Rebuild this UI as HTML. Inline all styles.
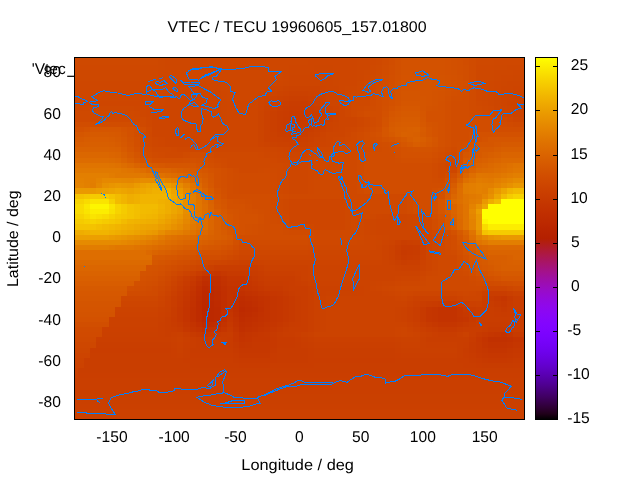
<!DOCTYPE html>
<html><head><meta charset="utf-8"><style>
html,body{margin:0;padding:0;background:#fff;width:640px;height:480px;overflow:hidden}
svg{position:absolute;left:0;top:0;display:block}
text{font-family:"Liberation Sans",sans-serif;fill:#000}
.t{opacity:0.999;text-rendering:geometricPrecision}
</style></head><body>
<svg width="640" height="480" viewBox="0 0 640 480">
<g class="t"><text x="167.60" y="31.50" font-size="15.50" text-anchor="start" textLength="259.0" lengthAdjust="spacingAndGlyphs" >VTEC / TECU 19960605_157.01800</text>
<text x="241.30" y="469.70" font-size="15.50" text-anchor="start" textLength="112.6" lengthAdjust="spacingAndGlyphs" >Longitude / deg</text>
<text x="96.35" y="442.00" font-size="15.60" text-anchor="start" >-150</text>
<text x="158.55" y="442.00" font-size="15.60" text-anchor="start" >-100</text>
<text x="224.18" y="442.00" font-size="15.60" text-anchor="start" >-50</text>
<text x="295.01" y="442.00" font-size="15.60" text-anchor="start" >0</text>
<text x="352.07" y="442.00" font-size="15.60" text-anchor="start" >50</text>
<text x="409.80" y="442.00" font-size="15.60" text-anchor="start" >100</text>
<text x="471.70" y="442.00" font-size="15.60" text-anchor="start" >150</text>
<text x="38.36" y="406.94" font-size="15.60" text-anchor="start" >-80</text>
<text x="38.36" y="365.78" font-size="15.60" text-anchor="start" >-60</text>
<text x="38.36" y="324.62" font-size="15.60" text-anchor="start" >-40</text>
<text x="38.36" y="283.46" font-size="15.60" text-anchor="start" >-20</text>
<text x="52.23" y="242.30" font-size="15.60" text-anchor="start" >0</text>
<text x="43.56" y="201.14" font-size="15.60" text-anchor="start" >20</text>
<text x="43.56" y="159.98" font-size="15.60" text-anchor="start" >40</text>
<text x="43.56" y="118.82" font-size="15.60" text-anchor="start" >60</text>
<text x="43.56" y="76.90" font-size="15.60" text-anchor="start" >80</text>
<text x="567.21" y="423.10" font-size="15.60" text-anchor="start" >-15</text>
<text x="567.21" y="379.10" font-size="15.60" text-anchor="start" >-10</text>
<text x="567.21" y="335.10" font-size="15.60" text-anchor="start" >-5</text>
<text x="570.99" y="291.10" font-size="15.60" text-anchor="start" >0</text>
<text x="570.98" y="247.10" font-size="15.60" text-anchor="start" >5</text>
<text x="570.41" y="203.10" font-size="15.60" text-anchor="start" >10</text>
<text x="570.41" y="159.10" font-size="15.60" text-anchor="start" >15</text>
<text x="570.82" y="114.10" font-size="15.60" text-anchor="start" >20</text>
<text x="570.82" y="70.10" font-size="15.60" text-anchor="start" >25</text>
<text x="31.70" y="73.75" font-size="15.50" text-anchor="start" >'Vtec</text>
<rect x="67.2" y="75.7" width="7.3" height="1.2" fill="#000"/>
<text transform="translate(18,287.0) rotate(-90)" font-size="15.50" textLength="96.5" lengthAdjust="spacingAndGlyphs">Latitude / deg</text></g>
<g shape-rendering="crispEdges">
<path fill="#cf4900" d="M74.50 57.50h83.91v2.57h-83.91zM376.11 57.50h6.22v2.57h-6.22zM475.63 57.50h48.87v2.57h-48.87zM74.50 60.07h83.91v5.13h-83.91zM376.11 60.07h6.22v5.13h-6.22zM475.63 60.07h18.66v5.13h-18.66zM369.89 65.20h6.22v5.13h-6.22zM369.89 70.34h6.22v5.13h-6.22zM363.67 80.61h6.22v5.13h-6.22zM363.67 85.74h6.22v5.13h-6.22zM363.67 90.88h6.22v5.13h-6.22zM357.45 96.01h12.44v5.13h-12.44zM351.23 101.15h18.66v5.13h-18.66zM475.63 101.15h6.22v5.13h-6.22zM351.23 106.28h6.22v5.13h-6.22zM481.85 106.28h6.22v5.13h-6.22zM74.50 111.41h59.03v5.13h-59.03zM351.23 111.41h6.22v5.13h-6.22zM488.07 111.41h6.22v5.13h-6.22zM74.50 116.55h71.47v5.13h-71.47zM363.67 116.55h6.22v5.13h-6.22zM500.51 116.55h6.22v5.13h-6.22zM139.75 121.68h6.22v5.13h-6.22zM363.67 121.68h6.22v5.13h-6.22zM512.95 121.68h11.55v5.13h-11.55zM145.97 126.82h6.22v5.13h-6.22zM357.45 126.82h6.22v5.13h-6.22zM351.23 131.95h6.22v5.13h-6.22zM145.97 137.09h6.22v5.13h-6.22zM351.23 137.09h6.22v5.13h-6.22zM145.97 142.22h6.22v5.13h-6.22zM338.79 142.22h18.66v5.13h-18.66zM152.19 147.36h18.66v5.13h-18.66zM338.79 147.36h18.66v5.13h-18.66zM164.63 152.49h18.66v5.13h-18.66zM214.39 152.49h43.54v5.13h-43.54zM313.91 152.49h43.54v5.13h-43.54zM450.75 152.49h6.22v5.13h-6.22zM226.83 157.63h43.54v5.13h-43.54zM313.91 157.63h43.54v5.13h-43.54zM444.53 157.63h6.22v5.13h-6.22zM226.83 162.76h55.98v5.13h-55.98zM313.91 162.76h43.54v5.13h-43.54zM438.31 162.76h6.22v5.13h-6.22zM239.27 167.90h18.66v5.13h-18.66zM276.59 167.90h6.22v5.13h-6.22zM313.91 167.90h43.54v5.13h-43.54zM438.31 167.90h6.22v5.13h-6.22zM276.59 173.03h6.22v5.13h-6.22zM313.91 173.03h43.54v5.13h-43.54zM438.31 173.03h6.22v5.13h-6.22zM276.59 178.17h6.22v5.13h-6.22zM313.91 178.17h43.54v5.13h-43.54zM276.59 183.30h6.22v5.13h-6.22zM313.91 183.30h43.54v5.13h-43.54zM276.59 188.44h6.22v5.13h-6.22zM313.91 188.44h43.54v5.13h-43.54zM289.03 193.57h118.18v5.13h-118.18zM276.59 198.71h6.22v5.13h-6.22zM351.23 198.71h55.98v5.13h-55.98zM276.59 203.84h6.22v5.13h-6.22zM351.23 203.84h55.98v5.13h-55.98zM276.59 208.98h6.22v5.13h-6.22zM351.23 208.98h55.98v5.13h-55.98zM351.23 214.11h18.66v5.13h-18.66zM282.81 219.24h6.22v5.13h-6.22zM351.23 219.24h6.22v5.13h-6.22zM425.87 219.24h6.22v5.13h-6.22zM289.03 224.38h18.66v5.13h-18.66zM351.23 224.38h6.22v5.13h-6.22zM425.87 224.38h6.22v5.13h-6.22zM313.91 229.51h43.54v5.13h-43.54zM438.31 229.51h6.22v5.13h-6.22zM313.91 234.65h43.54v5.13h-43.54zM438.31 234.65h6.22v5.13h-6.22zM438.31 239.78h6.22v5.13h-6.22zM239.27 244.92h68.42v5.13h-68.42zM438.31 244.92h6.22v5.13h-6.22zM438.31 250.05h6.22v5.13h-6.22zM226.83 255.19h6.22v5.13h-6.22zM438.31 255.19h18.66v5.13h-18.66zM438.31 260.32h18.66v5.13h-18.66zM183.29 265.46h6.22v5.13h-6.22zM438.31 265.46h18.66v5.13h-18.66zM170.85 270.59h6.22v5.13h-6.22zM438.31 270.59h18.66v5.13h-18.66zM164.63 275.73h6.22v5.13h-6.22zM425.87 275.73h43.54v5.13h-43.54zM425.87 280.86h43.54v5.13h-43.54zM400.99 286h80.86v5.13h-80.86zM512.95 286h11.55v5.13h-11.55zM74.50 337.34h21.71v5.13h-21.71z"/>
<path fill="#cf4800" d="M158.41 57.50h6.22v2.57h-6.22zM369.89 60.07h6.22v5.13h-6.22zM494.29 60.07h30.21v5.13h-30.21zM74.50 65.20h83.91v5.13h-83.91zM475.63 65.20h18.66v5.13h-18.66zM363.67 75.47h6.22v5.13h-6.22zM357.45 85.74h6.22v5.13h-6.22zM357.45 90.88h6.22v5.13h-6.22zM475.63 90.88h6.22v5.13h-6.22zM351.23 96.01h6.22v5.13h-6.22zM475.63 96.01h6.22v5.13h-6.22zM481.85 101.15h6.22v5.13h-6.22zM488.07 106.28h6.22v5.13h-6.22zM133.53 111.41h6.22v5.13h-6.22zM145.97 131.95h6.22v5.13h-6.22zM345.01 137.09h6.22v5.13h-6.22zM170.85 147.36h6.22v5.13h-6.22zM332.57 147.36h6.22v5.13h-6.22zM257.93 152.49h6.22v5.13h-6.22zM270.37 157.63h6.22v5.13h-6.22zM282.81 162.76h6.22v5.13h-6.22zM307.69 162.76h6.22v5.13h-6.22zM282.81 167.90h6.22v5.13h-6.22zM307.69 167.90h6.22v5.13h-6.22zM444.53 167.90h6.22v5.13h-6.22zM282.81 173.03h6.22v5.13h-6.22zM307.69 173.03h6.22v5.13h-6.22zM282.81 178.17h6.22v5.13h-6.22zM307.69 178.17h6.22v5.13h-6.22zM282.81 183.30h6.22v5.13h-6.22zM307.69 183.30h6.22v5.13h-6.22zM282.81 188.44h6.22v5.13h-6.22zM307.69 188.44h6.22v5.13h-6.22zM282.81 214.11h6.22v5.13h-6.22zM419.65 214.11h6.22v5.13h-6.22zM357.45 234.65h6.22v5.13h-6.22zM313.91 239.78h43.54v5.13h-43.54zM307.69 244.92h6.22v5.13h-6.22zM394.77 286h6.22v5.13h-6.22z"/>
<path fill="#ce4700" d="M164.63 57.50h149.28v2.57h-149.28zM164.63 60.07h143.06v5.13h-143.06zM357.45 60.07h12.44v5.13h-12.44zM164.63 65.20h124.40v5.13h-124.40zM357.45 65.20h12.44v5.13h-12.44zM506.73 65.20h17.77v5.13h-17.77zM158.41 70.34h124.40v5.13h-124.40zM357.45 70.34h6.22v5.13h-6.22zM494.29 70.34h18.66v5.13h-18.66zM158.41 75.47h124.40v5.13h-124.40zM357.45 75.47h6.22v5.13h-6.22zM494.29 75.47h6.22v5.13h-6.22zM74.50 80.61h90.13v5.13h-90.13zM220.61 80.61h55.98v5.13h-55.98zM475.63 80.61h18.66v5.13h-18.66zM74.50 85.74h90.13v5.13h-90.13zM220.61 85.74h43.54v5.13h-43.54zM345.01 85.74h12.44v5.13h-12.44zM481.85 85.74h12.44v5.13h-12.44zM74.50 90.88h83.91v5.13h-83.91zM226.83 90.88h31.10v5.13h-31.10zM345.01 90.88h6.22v5.13h-6.22zM488.07 90.88h6.22v5.13h-6.22zM74.50 96.01h83.91v5.13h-83.91zM226.83 96.01h31.10v5.13h-31.10zM345.01 96.01h6.22v5.13h-6.22zM488.07 96.01h6.22v5.13h-6.22zM345.01 101.15h6.22v5.13h-6.22zM488.07 101.15h6.22v5.13h-6.22zM133.53 106.28h12.44v5.13h-12.44zM345.01 106.28h6.22v5.13h-6.22zM139.75 111.41h6.22v5.13h-6.22zM345.01 111.41h6.22v5.13h-6.22zM494.29 111.41h6.22v5.13h-6.22zM145.97 116.55h6.22v5.13h-6.22zM357.45 116.55h6.22v5.13h-6.22zM506.73 116.55h6.22v5.13h-6.22zM145.97 121.68h6.22v5.13h-6.22zM357.45 121.68h6.22v5.13h-6.22zM351.23 126.82h6.22v5.13h-6.22zM345.01 131.95h6.22v5.13h-6.22zM152.19 137.09h6.22v5.13h-6.22zM338.79 137.09h6.22v5.13h-6.22zM152.19 142.22h6.22v5.13h-6.22zM332.57 142.22h6.22v5.13h-6.22zM177.07 147.36h87.08v5.13h-87.08zM320.13 147.36h12.44v5.13h-12.44zM264.15 152.49h12.44v5.13h-12.44zM307.69 152.49h6.22v5.13h-6.22zM276.59 157.63h12.44v5.13h-12.44zM450.75 157.63h6.22v5.13h-6.22zM289.03 162.76h18.66v5.13h-18.66zM444.53 162.76h6.22v5.13h-6.22zM289.03 167.90h18.66v5.13h-18.66zM450.75 167.90h6.22v5.13h-6.22zM289.03 173.03h18.66v5.13h-18.66zM289.03 178.17h18.66v5.13h-18.66zM289.03 183.30h18.66v5.13h-18.66zM289.03 188.44h18.66v5.13h-18.66zM363.67 234.65h12.44v5.13h-12.44zM432.09 234.65h6.22v5.13h-6.22zM363.67 239.78h6.22v5.13h-6.22zM432.09 239.78h6.22v5.13h-6.22zM313.91 244.92h55.98v5.13h-55.98zM432.09 244.92h6.22v5.13h-6.22zM239.27 250.05h68.42v5.13h-68.42zM432.09 250.05h6.22v5.13h-6.22zM233.05 255.19h6.22v5.13h-6.22zM432.09 255.19h6.22v5.13h-6.22zM432.09 260.32h6.22v5.13h-6.22zM189.51 265.46h6.22v5.13h-6.22zM432.09 265.46h6.22v5.13h-6.22zM425.87 270.59h6.22v5.13h-6.22zM419.65 275.73h6.22v5.13h-6.22zM164.63 280.86h6.22v5.13h-6.22zM400.99 280.86h18.66v5.13h-18.66zM388.55 286h6.22v5.13h-6.22zM481.85 286h6.22v5.13h-6.22zM506.73 286h6.22v5.13h-6.22zM400.99 291.13h6.22v5.13h-6.22zM463.19 291.13h6.22v5.13h-6.22zM121.09 296.27h37.32v5.13h-37.32zM74.50 342.48h21.71v5.13h-21.71z"/>
<path fill="#ce4600" d="M313.91 57.50h55.98v2.57h-55.98zM307.69 60.07h49.76v5.13h-49.76zM289.03 65.20h24.88v5.13h-24.88zM332.57 65.20h24.88v5.13h-24.88zM282.81 70.34h6.22v5.13h-6.22zM332.57 70.34h24.88v5.13h-24.88zM512.95 70.34h11.55v5.13h-11.55zM282.81 75.47h6.22v5.13h-6.22zM338.79 75.47h18.66v5.13h-18.66zM500.51 75.47h12.44v5.13h-12.44zM164.63 80.61h55.98v5.13h-55.98zM276.59 80.61h6.22v5.13h-6.22zM338.79 80.61h18.66v5.13h-18.66zM494.29 80.61h6.22v5.13h-6.22zM164.63 85.74h55.98v5.13h-55.98zM264.15 85.74h6.22v5.13h-6.22zM338.79 85.74h6.22v5.13h-6.22zM494.29 85.74h6.22v5.13h-6.22zM158.41 90.88h6.22v5.13h-6.22zM220.61 90.88h6.22v5.13h-6.22zM494.29 90.88h6.22v5.13h-6.22zM158.41 96.01h6.22v5.13h-6.22zM220.61 96.01h6.22v5.13h-6.22zM74.50 101.15h83.91v5.13h-83.91zM226.83 101.15h31.10v5.13h-31.10zM145.97 106.28h6.22v5.13h-6.22zM226.83 106.28h31.10v5.13h-31.10zM494.29 106.28h6.22v5.13h-6.22zM145.97 111.41h6.22v5.13h-6.22zM226.83 111.41h31.10v5.13h-31.10zM226.83 116.55h31.10v5.13h-31.10zM226.83 121.68h31.10v5.13h-31.10zM226.83 126.82h31.10v5.13h-31.10zM345.01 126.82h6.22v5.13h-6.22zM226.83 131.95h31.10v5.13h-31.10zM158.41 137.09h6.22v5.13h-6.22zM226.83 137.09h31.10v5.13h-31.10zM332.57 137.09h6.22v5.13h-6.22zM158.41 142.22h6.22v5.13h-6.22zM226.83 142.22h31.10v5.13h-31.10zM264.15 147.36h6.22v5.13h-6.22zM313.91 147.36h6.22v5.13h-6.22zM276.59 152.49h6.22v5.13h-6.22zM289.03 157.63h18.66v5.13h-18.66zM289.03 198.71h55.98v5.13h-55.98zM289.03 203.84h55.98v5.13h-55.98zM289.03 208.98h55.98v5.13h-55.98zM289.03 214.11h55.98v5.13h-55.98zM376.11 214.11h6.22v5.13h-6.22zM413.43 214.11h6.22v5.13h-6.22zM289.03 219.24h55.98v5.13h-55.98zM363.67 219.24h6.22v5.13h-6.22zM413.43 219.24h6.22v5.13h-6.22zM313.91 224.38h31.10v5.13h-31.10zM363.67 224.38h6.22v5.13h-6.22zM413.43 224.38h6.22v5.13h-6.22zM363.67 229.51h6.22v5.13h-6.22zM425.87 229.51h6.22v5.13h-6.22zM376.11 234.65h6.22v5.13h-6.22zM369.89 239.78h6.22v5.13h-6.22zM369.89 244.92h6.22v5.13h-6.22zM307.69 250.05h6.22v5.13h-6.22zM208.17 260.32h6.22v5.13h-6.22zM177.07 270.59h6.22v5.13h-6.22zM394.77 280.86h6.22v5.13h-6.22zM382.33 286h6.22v5.13h-6.22zM158.41 291.13h6.22v5.13h-6.22zM394.77 291.13h6.22v5.13h-6.22zM407.21 291.13h6.22v5.13h-6.22zM456.97 291.13h6.22v5.13h-6.22zM469.41 291.13h6.22v5.13h-6.22z"/>
<path fill="#ce4800" d="M369.89 57.50h6.22v2.57h-6.22zM158.41 60.07h6.22v5.13h-6.22zM158.41 65.20h6.22v5.13h-6.22zM494.29 65.20h12.44v5.13h-12.44zM74.50 70.34h83.91v5.13h-83.91zM363.67 70.34h6.22v5.13h-6.22zM475.63 70.34h18.66v5.13h-18.66zM74.50 75.47h83.91v5.13h-83.91zM475.63 75.47h18.66v5.13h-18.66zM357.45 80.61h6.22v5.13h-6.22zM475.63 85.74h6.22v5.13h-6.22zM351.23 90.88h6.22v5.13h-6.22zM481.85 90.88h6.22v5.13h-6.22zM481.85 96.01h6.22v5.13h-6.22zM74.50 106.28h59.03v5.13h-59.03zM307.69 157.63h6.22v5.13h-6.22zM282.81 198.71h6.22v5.13h-6.22zM345.01 198.71h6.22v5.13h-6.22zM282.81 203.84h6.22v5.13h-6.22zM345.01 203.84h6.22v5.13h-6.22zM282.81 208.98h6.22v5.13h-6.22zM345.01 208.98h6.22v5.13h-6.22zM345.01 214.11h6.22v5.13h-6.22zM369.89 214.11h6.22v5.13h-6.22zM345.01 219.24h6.22v5.13h-6.22zM357.45 219.24h6.22v5.13h-6.22zM419.65 219.24h6.22v5.13h-6.22zM307.69 224.38h6.22v5.13h-6.22zM345.01 224.38h6.22v5.13h-6.22zM357.45 224.38h6.22v5.13h-6.22zM419.65 224.38h6.22v5.13h-6.22zM357.45 229.51h6.22v5.13h-6.22zM432.09 229.51h6.22v5.13h-6.22zM357.45 239.78h6.22v5.13h-6.22zM201.95 260.32h6.22v5.13h-6.22zM432.09 270.59h6.22v5.13h-6.22zM419.65 280.86h6.22v5.13h-6.22zM158.41 286h6.22v5.13h-6.22z"/>
<path fill="#d04b00" d="M382.33 57.50h6.22v2.57h-6.22zM469.41 57.50h6.22v2.57h-6.22zM382.33 60.07h6.22v5.13h-6.22zM469.41 60.07h6.22v5.13h-6.22zM469.41 65.20h6.22v5.13h-6.22zM469.41 70.34h6.22v5.13h-6.22zM376.11 75.47h6.22v5.13h-6.22zM469.41 75.47h6.22v5.13h-6.22zM376.11 80.61h6.22v5.13h-6.22zM469.41 80.61h6.22v5.13h-6.22zM469.41 85.74h6.22v5.13h-6.22zM469.41 90.88h6.22v5.13h-6.22zM369.89 96.01h6.22v5.13h-6.22zM469.41 96.01h6.22v5.13h-6.22zM369.89 101.15h6.22v5.13h-6.22zM469.41 101.15h6.22v5.13h-6.22zM363.67 106.28h6.22v5.13h-6.22zM469.41 106.28h6.22v5.13h-6.22zM357.45 111.41h6.22v5.13h-6.22zM475.63 111.41h6.22v5.13h-6.22zM369.89 116.55h6.22v5.13h-6.22zM494.29 116.55h6.22v5.13h-6.22zM133.53 121.68h6.22v5.13h-6.22zM369.89 121.68h6.22v5.13h-6.22zM500.51 121.68h6.22v5.13h-6.22zM363.67 126.82h6.22v5.13h-6.22zM139.75 131.95h6.22v5.13h-6.22zM357.45 131.95h6.22v5.13h-6.22zM139.75 137.09h6.22v5.13h-6.22zM357.45 137.09h6.22v5.13h-6.22zM139.75 142.22h6.22v5.13h-6.22zM357.45 142.22h6.22v5.13h-6.22zM145.97 147.36h6.22v5.13h-6.22zM363.67 147.36h6.22v5.13h-6.22zM450.75 147.36h6.22v5.13h-6.22zM152.19 152.49h6.22v5.13h-6.22zM183.29 152.49h6.22v5.13h-6.22zM208.17 152.49h6.22v5.13h-6.22zM357.45 152.49h6.22v5.13h-6.22zM444.53 152.49h6.22v5.13h-6.22zM214.39 157.63h6.22v5.13h-6.22zM357.45 157.63h6.22v5.13h-6.22zM438.31 157.63h6.22v5.13h-6.22zM220.61 162.76h6.22v5.13h-6.22zM357.45 162.76h6.22v5.13h-6.22zM432.09 162.76h6.22v5.13h-6.22zM233.05 167.90h6.22v5.13h-6.22zM357.45 167.90h6.22v5.13h-6.22zM432.09 167.90h6.22v5.13h-6.22zM239.27 173.03h31.10v5.13h-31.10zM357.45 173.03h6.22v5.13h-6.22zM432.09 173.03h6.22v5.13h-6.22zM239.27 178.17h31.10v5.13h-31.10zM357.45 178.17h6.22v5.13h-6.22zM438.31 178.17h6.22v5.13h-6.22zM239.27 183.30h31.10v5.13h-31.10zM357.45 183.30h6.22v5.13h-6.22zM239.27 188.44h31.10v5.13h-31.10zM357.45 188.44h6.22v5.13h-6.22zM276.59 193.57h6.22v5.13h-6.22zM407.21 193.57h6.22v5.13h-6.22zM270.37 198.71h6.22v5.13h-6.22zM407.21 198.71h6.22v5.13h-6.22zM270.37 203.84h6.22v5.13h-6.22zM407.21 203.84h6.22v5.13h-6.22zM270.37 208.98h6.22v5.13h-6.22zM407.21 208.98h6.22v5.13h-6.22zM276.59 219.24h6.22v5.13h-6.22zM282.81 224.38h6.22v5.13h-6.22zM289.03 229.51h18.66v5.13h-18.66zM307.69 234.65h6.22v5.13h-6.22zM444.53 234.65h6.22v5.13h-6.22zM239.27 239.78h68.42v5.13h-68.42zM444.53 239.78h6.22v5.13h-6.22zM444.53 244.92h6.22v5.13h-6.22zM450.75 250.05h6.22v5.13h-6.22zM220.61 255.19h6.22v5.13h-6.22zM177.07 265.46h6.22v5.13h-6.22zM456.97 265.46h6.22v5.13h-6.22zM463.19 270.59h6.22v5.13h-6.22zM469.41 275.73h6.22v5.13h-6.22zM475.63 280.86h18.66v5.13h-18.66zM127.31 291.13h18.66v5.13h-18.66zM74.50 327.07h27.93v5.13h-27.93z"/>
<path fill="#d14d00" d="M388.55 57.50h6.22v2.57h-6.22zM463.19 57.50h6.22v2.57h-6.22zM388.55 60.07h6.22v5.13h-6.22zM463.19 60.07h6.22v5.13h-6.22zM382.33 75.47h6.22v5.13h-6.22zM382.33 80.61h6.22v5.13h-6.22zM376.11 96.01h6.22v5.13h-6.22zM463.19 96.01h6.22v5.13h-6.22zM376.11 101.15h6.22v5.13h-6.22zM450.75 101.15h18.66v5.13h-18.66zM376.11 106.28h6.22v5.13h-6.22zM450.75 106.28h18.66v5.13h-18.66zM363.67 111.41h18.66v5.13h-18.66zM450.75 111.41h18.66v5.13h-18.66zM376.11 116.55h6.22v5.13h-6.22zM450.75 116.55h43.54v5.13h-43.54zM74.50 121.68h59.03v5.13h-59.03zM376.11 121.68h6.22v5.13h-6.22zM450.75 121.68h43.54v5.13h-43.54zM139.75 126.82h6.22v5.13h-6.22zM369.89 126.82h6.22v5.13h-6.22zM450.75 126.82h73.75v5.13h-73.75zM363.67 131.95h6.22v5.13h-6.22zM450.75 131.95h18.66v5.13h-18.66zM363.67 137.09h6.22v5.13h-6.22zM450.75 137.09h18.66v5.13h-18.66zM363.67 142.22h18.66v5.13h-18.66zM450.75 142.22h6.22v5.13h-6.22zM139.75 147.36h6.22v5.13h-6.22zM382.33 147.36h6.22v5.13h-6.22zM444.53 147.36h6.22v5.13h-6.22zM145.97 152.49h6.22v5.13h-6.22zM189.51 152.49h18.66v5.13h-18.66zM363.67 152.49h31.10v5.13h-31.10zM438.31 152.49h6.22v5.13h-6.22zM208.17 157.63h6.22v5.13h-6.22zM363.67 157.63h31.10v5.13h-31.10zM432.09 157.63h6.22v5.13h-6.22zM214.39 162.76h6.22v5.13h-6.22zM363.67 162.76h68.42v5.13h-68.42zM226.83 167.90h6.22v5.13h-6.22zM363.67 167.90h68.42v5.13h-68.42zM226.83 173.03h6.22v5.13h-6.22zM363.67 173.03h68.42v5.13h-68.42zM226.83 178.17h6.22v5.13h-6.22zM363.67 178.17h68.42v5.13h-68.42zM226.83 183.30h6.22v5.13h-6.22zM363.67 183.30h80.86v5.13h-80.86zM226.83 188.44h6.22v5.13h-6.22zM363.67 188.44h68.42v5.13h-68.42zM226.83 193.57h43.54v5.13h-43.54zM413.43 193.57h18.66v5.13h-18.66zM251.71 198.71h18.66v5.13h-18.66zM413.43 198.71h18.66v5.13h-18.66zM251.71 203.84h18.66v5.13h-18.66zM413.43 203.84h18.66v5.13h-18.66zM264.15 208.98h6.22v5.13h-6.22zM413.43 208.98h18.66v5.13h-18.66zM264.15 214.11h6.22v5.13h-6.22zM264.15 219.24h6.22v5.13h-6.22zM432.09 219.24h6.22v5.13h-6.22zM264.15 224.38h18.66v5.13h-18.66zM432.09 224.38h6.22v5.13h-6.22zM264.15 229.51h18.66v5.13h-18.66zM444.53 229.51h6.22v5.13h-6.22zM239.27 234.65h68.42v5.13h-68.42zM450.75 234.65h6.22v5.13h-6.22zM450.75 239.78h6.22v5.13h-6.22zM233.05 244.92h6.22v5.13h-6.22zM450.75 244.92h6.22v5.13h-6.22zM226.83 250.05h6.22v5.13h-6.22zM201.95 255.19h18.66v5.13h-18.66zM456.97 255.19h6.22v5.13h-6.22zM170.85 265.46h6.22v5.13h-6.22zM463.19 265.46h6.22v5.13h-6.22zM475.63 275.73h6.22v5.13h-6.22zM152.19 280.86h6.22v5.13h-6.22zM500.51 280.86h6.22v5.13h-6.22zM139.75 286h6.22v5.13h-6.22z"/>
<path fill="#d24f00" d="M394.77 57.50h6.22v2.57h-6.22zM450.75 57.50h6.22v2.57h-6.22zM456.97 60.07h6.22v5.13h-6.22zM456.97 65.20h6.22v5.13h-6.22zM456.97 70.34h6.22v5.13h-6.22zM388.55 75.47h6.22v5.13h-6.22zM388.55 80.61h6.22v5.13h-6.22zM463.19 80.61h6.22v5.13h-6.22zM456.97 85.74h6.22v5.13h-6.22zM450.75 90.88h6.22v5.13h-6.22zM382.33 96.01h6.22v5.13h-6.22zM382.33 101.15h6.22v5.13h-6.22zM444.53 101.15h6.22v5.13h-6.22zM444.53 106.28h6.22v5.13h-6.22zM444.53 111.41h6.22v5.13h-6.22zM444.53 116.55h6.22v5.13h-6.22zM444.53 121.68h6.22v5.13h-6.22zM133.53 126.82h6.22v5.13h-6.22zM376.11 126.82h6.22v5.13h-6.22zM444.53 126.82h6.22v5.13h-6.22zM369.89 131.95h6.22v5.13h-6.22zM444.53 131.95h6.22v5.13h-6.22zM469.41 131.95h6.22v5.13h-6.22zM133.53 137.09h6.22v5.13h-6.22zM376.11 137.09h6.22v5.13h-6.22zM444.53 137.09h6.22v5.13h-6.22zM469.41 137.09h6.22v5.13h-6.22zM133.53 142.22h6.22v5.13h-6.22zM388.55 142.22h6.22v5.13h-6.22zM444.53 142.22h6.22v5.13h-6.22zM463.19 142.22h6.22v5.13h-6.22zM394.77 147.36h6.22v5.13h-6.22zM438.31 147.36h6.22v5.13h-6.22zM139.75 152.49h6.22v5.13h-6.22zM394.77 152.49h6.22v5.13h-6.22zM432.09 152.49h6.22v5.13h-6.22zM456.97 152.49h6.22v5.13h-6.22zM152.19 157.63h31.10v5.13h-31.10zM201.95 157.63h6.22v5.13h-6.22zM400.99 157.63h31.10v5.13h-31.10zM208.17 162.76h6.22v5.13h-6.22zM456.97 162.76h6.22v5.13h-6.22zM220.61 167.90h6.22v5.13h-6.22zM220.61 173.03h6.22v5.13h-6.22zM450.75 173.03h6.22v5.13h-6.22zM220.61 178.17h6.22v5.13h-6.22zM220.61 183.30h6.22v5.13h-6.22zM432.09 188.44h6.22v5.13h-6.22zM432.09 193.57h6.22v5.13h-6.22zM239.27 198.71h6.22v5.13h-6.22zM245.49 203.84h6.22v5.13h-6.22zM251.71 208.98h6.22v5.13h-6.22zM257.93 214.11h6.22v5.13h-6.22zM432.09 214.11h6.22v5.13h-6.22zM257.93 219.24h6.22v5.13h-6.22zM251.71 224.38h6.22v5.13h-6.22zM251.71 229.51h6.22v5.13h-6.22zM220.61 250.05h6.22v5.13h-6.22zM456.97 250.05h6.22v5.13h-6.22zM195.73 255.19h6.22v5.13h-6.22zM177.07 260.32h6.22v5.13h-6.22zM463.19 260.32h6.22v5.13h-6.22zM164.63 265.46h6.22v5.13h-6.22zM158.41 270.59h6.22v5.13h-6.22zM152.19 275.73h6.22v5.13h-6.22zM481.85 275.73h6.22v5.13h-6.22zM139.75 280.86h6.22v5.13h-6.22zM512.95 280.86h11.55v5.13h-11.55zM127.31 286h6.22v5.13h-6.22z"/>
<path fill="#d35100" d="M400.99 57.50h43.54v2.57h-43.54zM444.53 60.07h6.22v5.13h-6.22zM444.53 65.20h6.22v5.13h-6.22zM444.53 70.34h6.22v5.13h-6.22zM394.77 75.47h6.22v5.13h-6.22zM450.75 75.47h6.22v5.13h-6.22zM450.75 80.61h6.22v5.13h-6.22zM444.53 85.74h6.22v5.13h-6.22zM388.55 96.01h6.22v5.13h-6.22zM388.55 101.15h6.22v5.13h-6.22zM438.31 101.15h6.22v5.13h-6.22zM438.31 106.28h6.22v5.13h-6.22zM382.33 111.41h6.22v5.13h-6.22zM425.87 111.41h18.66v5.13h-18.66zM425.87 116.55h18.66v5.13h-18.66zM438.31 121.68h6.22v5.13h-6.22zM74.50 126.82h9.27v5.13h-9.27zM127.31 126.82h6.22v5.13h-6.22zM438.31 126.82h6.22v5.13h-6.22zM127.31 131.95h6.22v5.13h-6.22zM376.11 131.95h6.22v5.13h-6.22zM438.31 131.95h6.22v5.13h-6.22zM475.63 131.95h48.87v5.13h-48.87zM438.31 137.09h6.22v5.13h-6.22zM475.63 137.09h6.22v5.13h-6.22zM438.31 142.22h6.22v5.13h-6.22zM133.53 147.36h6.22v5.13h-6.22zM400.99 147.36h6.22v5.13h-6.22zM432.09 147.36h6.22v5.13h-6.22zM463.19 147.36h6.22v5.13h-6.22zM400.99 152.49h31.10v5.13h-31.10zM189.51 157.63h6.22v5.13h-6.22zM201.95 162.76h6.22v5.13h-6.22zM214.39 167.90h6.22v5.13h-6.22zM214.39 173.03h6.22v5.13h-6.22zM214.39 178.17h6.22v5.13h-6.22zM214.39 183.30h6.22v5.13h-6.22zM438.31 188.44h6.22v5.13h-6.22zM220.61 193.57h6.22v5.13h-6.22zM438.31 193.57h6.22v5.13h-6.22zM226.83 198.71h6.22v5.13h-6.22zM432.09 198.71h6.22v5.13h-6.22zM226.83 203.84h18.66v5.13h-18.66zM432.09 203.84h6.22v5.13h-6.22zM239.27 208.98h6.22v5.13h-6.22zM432.09 208.98h6.22v5.13h-6.22zM239.27 214.11h18.66v5.13h-18.66zM239.27 219.24h18.66v5.13h-18.66zM438.31 219.24h6.22v5.13h-6.22zM239.27 224.38h6.22v5.13h-6.22zM438.31 224.38h6.22v5.13h-6.22zM239.27 229.51h6.22v5.13h-6.22zM450.75 229.51h6.22v5.13h-6.22zM226.83 244.92h6.22v5.13h-6.22zM456.97 244.92h6.22v5.13h-6.22zM201.95 250.05h18.66v5.13h-18.66zM189.51 255.19h6.22v5.13h-6.22zM463.19 255.19h6.22v5.13h-6.22zM170.85 260.32h6.22v5.13h-6.22zM158.41 265.46h6.22v5.13h-6.22zM469.41 265.46h6.22v5.13h-6.22zM152.19 270.59h6.22v5.13h-6.22zM475.63 270.59h6.22v5.13h-6.22zM139.75 275.73h6.22v5.13h-6.22zM488.07 275.73h6.22v5.13h-6.22zM74.50 316.80h34.15v5.13h-34.15z"/>
<path fill="#d25000" d="M444.53 57.50h6.22v2.57h-6.22zM394.77 60.07h6.22v5.13h-6.22zM450.75 60.07h6.22v5.13h-6.22zM394.77 65.20h6.22v5.13h-6.22zM450.75 65.20h6.22v5.13h-6.22zM456.97 75.47h6.22v5.13h-6.22zM456.97 80.61h6.22v5.13h-6.22zM388.55 85.74h6.22v5.13h-6.22zM450.75 85.74h6.22v5.13h-6.22zM388.55 90.88h6.22v5.13h-6.22zM444.53 96.01h6.22v5.13h-6.22zM382.33 106.28h6.22v5.13h-6.22zM183.29 157.63h6.22v5.13h-6.22zM195.73 157.63h6.22v5.13h-6.22zM456.97 157.63h6.22v5.13h-6.22zM444.53 178.17h6.22v5.13h-6.22zM220.61 188.44h6.22v5.13h-6.22zM233.05 198.71h6.22v5.13h-6.22zM245.49 208.98h6.22v5.13h-6.22zM245.49 224.38h6.22v5.13h-6.22zM245.49 229.51h6.22v5.13h-6.22zM233.05 239.78h6.22v5.13h-6.22zM145.97 275.73h6.22v5.13h-6.22zM133.53 280.86h6.22v5.13h-6.22z"/>
<path fill="#d14e00" d="M456.97 57.50h6.22v2.57h-6.22zM388.55 65.20h6.22v5.13h-6.22zM463.19 65.20h6.22v5.13h-6.22zM463.19 70.34h6.22v5.13h-6.22zM463.19 75.47h6.22v5.13h-6.22zM382.33 85.74h6.22v5.13h-6.22zM463.19 85.74h6.22v5.13h-6.22zM382.33 90.88h6.22v5.13h-6.22zM463.19 90.88h6.22v5.13h-6.22zM450.75 96.01h12.44v5.13h-12.44zM133.53 131.95h6.22v5.13h-6.22zM369.89 137.09h6.22v5.13h-6.22zM382.33 142.22h6.22v5.13h-6.22zM456.97 142.22h6.22v5.13h-6.22zM388.55 147.36h6.22v5.13h-6.22zM456.97 147.36h6.22v5.13h-6.22zM394.77 157.63h6.22v5.13h-6.22zM245.49 198.71h6.22v5.13h-6.22zM257.93 208.98h6.22v5.13h-6.22zM257.93 224.38h6.22v5.13h-6.22zM257.93 229.51h6.22v5.13h-6.22zM183.29 260.32h6.22v5.13h-6.22zM469.41 270.59h6.22v5.13h-6.22zM145.97 280.86h6.22v5.13h-6.22zM506.73 280.86h6.22v5.13h-6.22zM133.53 286h6.22v5.13h-6.22zM74.50 321.94h34.15v5.13h-34.15z"/>
<path fill="#d35200" d="M400.99 60.07h43.54v5.13h-43.54zM400.99 65.20h43.54v5.13h-43.54zM438.31 70.34h6.22v5.13h-6.22zM444.53 75.47h6.22v5.13h-6.22zM394.77 80.61h6.22v5.13h-6.22zM444.53 80.61h6.22v5.13h-6.22zM394.77 85.74h6.22v5.13h-6.22zM438.31 90.88h6.22v5.13h-6.22zM438.31 96.01h6.22v5.13h-6.22zM432.09 106.28h6.22v5.13h-6.22zM382.33 137.09h6.22v5.13h-6.22zM407.21 147.36h6.22v5.13h-6.22zM145.97 157.63h6.22v5.13h-6.22zM456.97 167.90h6.22v5.13h-6.22zM145.97 270.59h6.22v5.13h-6.22z"/>
<path fill="#cd4600" d="M313.91 65.20h18.66v5.13h-18.66zM289.03 70.34h24.88v5.13h-24.88zM332.57 75.47h6.22v5.13h-6.22zM512.95 75.47h11.55v5.13h-11.55zM282.81 80.61h6.22v5.13h-6.22zM332.57 80.61h6.22v5.13h-6.22zM500.51 80.61h6.22v5.13h-6.22zM164.63 90.88h55.98v5.13h-55.98zM257.93 90.88h6.22v5.13h-6.22zM338.79 90.88h6.22v5.13h-6.22zM494.29 96.01h6.22v5.13h-6.22zM158.41 101.15h6.22v5.13h-6.22zM220.61 101.15h6.22v5.13h-6.22zM494.29 101.15h6.22v5.13h-6.22zM152.19 106.28h6.22v5.13h-6.22zM220.61 106.28h6.22v5.13h-6.22zM220.61 111.41h6.22v5.13h-6.22zM500.51 111.41h6.22v5.13h-6.22zM220.61 116.55h6.22v5.13h-6.22zM220.61 121.68h6.22v5.13h-6.22zM220.61 126.82h6.22v5.13h-6.22zM220.61 131.95h6.22v5.13h-6.22zM220.61 137.09h6.22v5.13h-6.22zM220.61 142.22h6.22v5.13h-6.22zM270.37 147.36h6.22v5.13h-6.22zM282.81 152.49h6.22v5.13h-6.22zM382.33 214.11h6.22v5.13h-6.22zM407.21 214.11h6.22v5.13h-6.22zM369.89 219.24h6.22v5.13h-6.22zM407.21 219.24h6.22v5.13h-6.22zM369.89 224.38h6.22v5.13h-6.22zM407.21 224.38h6.22v5.13h-6.22zM369.89 229.51h6.22v5.13h-6.22zM419.65 229.51h6.22v5.13h-6.22zM382.33 234.65h6.22v5.13h-6.22zM376.11 239.78h6.22v5.13h-6.22zM313.91 250.05h55.98v5.13h-55.98zM74.50 347.61h15.49v5.13h-15.49z"/>
<path fill="#cf4a00" d="M376.11 65.20h6.22v5.13h-6.22zM369.89 75.47h6.22v5.13h-6.22zM357.45 106.28h6.22v5.13h-6.22zM257.93 167.90h6.22v5.13h-6.22zM270.37 167.90h6.22v5.13h-6.22zM307.69 239.78h6.22v5.13h-6.22zM195.73 260.32h6.22v5.13h-6.22zM456.97 270.59h6.22v5.13h-6.22zM158.41 280.86h6.22v5.13h-6.22zM469.41 280.86h6.22v5.13h-6.22zM152.19 291.13h6.22v5.13h-6.22z"/>
<path fill="#d04c00" d="M382.33 65.20h6.22v5.13h-6.22zM376.11 85.74h6.22v5.13h-6.22zM376.11 90.88h6.22v5.13h-6.22zM369.89 106.28h6.22v5.13h-6.22zM469.41 111.41h6.22v5.13h-6.22zM494.29 121.68h6.22v5.13h-6.22zM369.89 147.36h12.44v5.13h-12.44zM233.05 173.03h6.22v5.13h-6.22zM444.53 173.03h6.22v5.13h-6.22zM233.05 178.17h6.22v5.13h-6.22zM432.09 178.17h6.22v5.13h-6.22zM233.05 183.30h6.22v5.13h-6.22zM233.05 188.44h6.22v5.13h-6.22zM270.37 193.57h6.22v5.13h-6.22zM270.37 214.11h6.22v5.13h-6.22zM270.37 219.24h6.22v5.13h-6.22zM282.81 229.51h6.22v5.13h-6.22zM189.51 260.32h6.22v5.13h-6.22zM456.97 260.32h6.22v5.13h-6.22zM164.63 270.59h6.22v5.13h-6.22zM158.41 275.73h6.22v5.13h-6.22zM494.29 280.86h6.22v5.13h-6.22zM145.97 286h6.22v5.13h-6.22z"/>
<path fill="#cd4500" d="M313.91 70.34h18.66v5.13h-18.66zM289.03 75.47h43.54v5.13h-43.54zM289.03 80.61h43.54v5.13h-43.54zM506.73 80.61h17.77v5.13h-17.77zM270.37 85.74h12.44v5.13h-12.44zM326.35 85.74h12.44v5.13h-12.44zM500.51 85.74h12.44v5.13h-12.44zM264.15 90.88h6.22v5.13h-6.22zM326.35 90.88h12.44v5.13h-12.44zM500.51 90.88h6.22v5.13h-6.22zM164.63 96.01h55.98v5.13h-55.98zM257.93 96.01h6.22v5.13h-6.22zM326.35 96.01h18.66v5.13h-18.66zM164.63 101.15h55.98v5.13h-55.98zM326.35 101.15h18.66v5.13h-18.66zM158.41 106.28h62.20v5.13h-62.20zM338.79 106.28h6.22v5.13h-6.22zM500.51 106.28h6.22v5.13h-6.22zM152.19 111.41h68.42v5.13h-68.42zM338.79 111.41h6.22v5.13h-6.22zM152.19 116.55h68.42v5.13h-68.42zM338.79 116.55h18.66v5.13h-18.66zM512.95 116.55h11.55v5.13h-11.55zM152.19 121.68h68.42v5.13h-68.42zM338.79 121.68h18.66v5.13h-18.66zM152.19 126.82h68.42v5.13h-68.42zM338.79 126.82h6.22v5.13h-6.22zM152.19 131.95h68.42v5.13h-68.42zM326.35 131.95h18.66v5.13h-18.66zM164.63 137.09h55.98v5.13h-55.98zM326.35 137.09h6.22v5.13h-6.22zM164.63 142.22h55.98v5.13h-55.98zM326.35 142.22h6.22v5.13h-6.22zM276.59 147.36h6.22v5.13h-6.22zM307.69 147.36h6.22v5.13h-6.22zM289.03 152.49h18.66v5.13h-18.66zM450.75 162.76h6.22v5.13h-6.22zM388.55 214.11h18.66v5.13h-18.66zM376.11 219.24h31.10v5.13h-31.10zM376.11 224.38h31.10v5.13h-31.10zM376.11 229.51h43.54v5.13h-43.54zM388.55 234.65h43.54v5.13h-43.54zM425.87 239.78h6.22v5.13h-6.22zM376.11 244.92h6.22v5.13h-6.22zM425.87 244.92h6.22v5.13h-6.22zM369.89 250.05h12.44v5.13h-12.44zM425.87 250.05h6.22v5.13h-6.22zM239.27 255.19h143.06v5.13h-143.06zM425.87 255.19h6.22v5.13h-6.22zM214.39 260.32h6.22v5.13h-6.22zM425.87 260.32h6.22v5.13h-6.22zM195.73 265.46h6.22v5.13h-6.22zM425.87 265.46h6.22v5.13h-6.22zM419.65 270.59h6.22v5.13h-6.22zM170.85 275.73h6.22v5.13h-6.22zM400.99 275.73h18.66v5.13h-18.66zM382.33 280.86h12.44v5.13h-12.44zM164.63 286h6.22v5.13h-6.22zM376.11 286h6.22v5.13h-6.22zM488.07 286h18.66v5.13h-18.66zM388.55 291.13h6.22v5.13h-6.22zM413.43 291.13h43.54v5.13h-43.54zM475.63 291.13h6.22v5.13h-6.22zM400.99 296.27h6.22v5.13h-6.22zM463.19 296.27h18.66v5.13h-18.66zM121.09 301.40h37.32v5.13h-37.32zM400.99 327.07h6.22v5.13h-6.22zM400.99 332.21h6.22v5.13h-6.22z"/>
<path fill="#d04a00" d="M376.11 70.34h6.22v5.13h-6.22zM369.89 80.61h6.22v5.13h-6.22zM369.89 85.74h6.22v5.13h-6.22zM369.89 90.88h6.22v5.13h-6.22zM475.63 106.28h6.22v5.13h-6.22zM481.85 111.41h6.22v5.13h-6.22zM506.73 121.68h6.22v5.13h-6.22zM357.45 147.36h6.22v5.13h-6.22zM158.41 152.49h6.22v5.13h-6.22zM220.61 157.63h6.22v5.13h-6.22zM264.15 167.90h6.22v5.13h-6.22zM270.37 173.03h6.22v5.13h-6.22zM270.37 178.17h6.22v5.13h-6.22zM270.37 183.30h6.22v5.13h-6.22zM270.37 188.44h6.22v5.13h-6.22zM282.81 193.57h6.22v5.13h-6.22zM276.59 214.11h6.22v5.13h-6.22zM425.87 214.11h6.22v5.13h-6.22zM307.69 229.51h6.22v5.13h-6.22zM233.05 250.05h6.22v5.13h-6.22zM444.53 250.05h6.22v5.13h-6.22zM152.19 286h6.22v5.13h-6.22zM145.97 291.13h6.22v5.13h-6.22zM74.50 332.21h27.93v5.13h-27.93z"/>
<path fill="#d14c00" d="M382.33 70.34h6.22v5.13h-6.22z"/>
<path fill="#d24e00" d="M388.55 70.34h6.22v5.13h-6.22zM456.97 90.88h6.22v5.13h-6.22z"/>
<path fill="#d25100" d="M394.77 70.34h6.22v5.13h-6.22zM450.75 70.34h6.22v5.13h-6.22zM444.53 90.88h6.22v5.13h-6.22z"/>
<path fill="#d35300" d="M400.99 70.34h37.32v5.13h-37.32zM432.09 75.47h12.44v5.13h-12.44zM438.31 80.61h6.22v5.13h-6.22zM438.31 85.74h6.22v5.13h-6.22zM394.77 90.88h6.22v5.13h-6.22zM432.09 90.88h6.22v5.13h-6.22zM394.77 96.01h6.22v5.13h-6.22zM432.09 96.01h6.22v5.13h-6.22zM432.09 101.15h6.22v5.13h-6.22zM425.87 106.28h6.22v5.13h-6.22zM382.33 116.55h6.22v5.13h-6.22zM432.09 121.68h6.22v5.13h-6.22zM127.31 137.09h6.22v5.13h-6.22zM394.77 142.22h6.22v5.13h-6.22zM469.41 142.22h6.22v5.13h-6.22zM413.43 147.36h18.66v5.13h-18.66zM233.05 208.98h6.22v5.13h-6.22zM438.31 214.11h6.22v5.13h-6.22zM183.29 255.19h6.22v5.13h-6.22zM152.19 265.46h6.22v5.13h-6.22zM139.75 270.59h6.22v5.13h-6.22zM74.50 311.67h40.37v5.13h-40.37z"/>
<path fill="#d45300" d="M400.99 75.47h31.10v5.13h-31.10zM432.09 80.61h6.22v5.13h-6.22zM432.09 85.74h6.22v5.13h-6.22zM394.77 101.15h6.22v5.13h-6.22zM388.55 106.28h6.22v5.13h-6.22zM382.33 121.68h6.22v5.13h-6.22zM83.77 126.82h6.22v5.13h-6.22zM121.09 126.82h6.22v5.13h-6.22zM432.09 126.82h6.22v5.13h-6.22zM432.09 131.95h6.22v5.13h-6.22zM481.85 137.09h6.22v5.13h-6.22zM195.73 162.76h6.22v5.13h-6.22zM208.17 167.90h6.22v5.13h-6.22zM233.05 214.11h6.22v5.13h-6.22zM233.05 219.24h6.22v5.13h-6.22zM233.05 224.38h6.22v5.13h-6.22zM233.05 234.65h6.22v5.13h-6.22zM456.97 239.78h6.22v5.13h-6.22zM220.61 244.92h6.22v5.13h-6.22zM195.73 250.05h6.22v5.13h-6.22zM164.63 260.32h6.22v5.13h-6.22zM469.41 260.32h6.22v5.13h-6.22zM145.97 265.46h6.22v5.13h-6.22zM481.85 270.59h6.22v5.13h-6.22zM494.29 275.73h6.22v5.13h-6.22z"/>
<path fill="#d45400" d="M400.99 80.61h31.10v5.13h-31.10zM400.99 85.74h31.10v5.13h-31.10zM419.65 90.88h12.44v5.13h-12.44zM425.87 96.01h6.22v5.13h-6.22zM425.87 101.15h6.22v5.13h-6.22zM425.87 121.68h6.22v5.13h-6.22zM388.55 137.09h6.22v5.13h-6.22zM127.31 142.22h6.22v5.13h-6.22zM139.75 157.63h6.22v5.13h-6.22zM444.53 183.30h6.22v5.13h-6.22zM214.39 188.44h6.22v5.13h-6.22zM226.83 208.98h6.22v5.13h-6.22zM233.05 229.51h6.22v5.13h-6.22zM463.19 250.05h6.22v5.13h-6.22zM177.07 255.19h6.22v5.13h-6.22zM74.50 306.54h40.37v5.13h-40.37z"/>
<path fill="#cc4400" d="M282.81 85.74h6.22v5.13h-6.22zM512.95 90.88h11.55v5.13h-11.55zM264.15 96.01h6.22v5.13h-6.22zM506.73 96.01h6.22v5.13h-6.22zM257.93 111.41h6.22v5.13h-6.22zM257.93 116.55h6.22v5.13h-6.22zM257.93 121.68h6.22v5.13h-6.22zM332.57 121.68h6.22v5.13h-6.22zM257.93 126.82h6.22v5.13h-6.22zM257.93 131.95h6.22v5.13h-6.22zM257.93 137.09h6.22v5.13h-6.22zM320.13 137.09h6.22v5.13h-6.22zM369.89 280.86h6.22v5.13h-6.22z"/>
<path fill="#cc4300" d="M289.03 85.74h31.10v5.13h-31.10zM276.59 90.88h6.22v5.13h-6.22zM320.13 90.88h6.22v5.13h-6.22zM320.13 96.01h6.22v5.13h-6.22zM512.95 96.01h11.55v5.13h-11.55zM264.15 101.15h6.22v5.13h-6.22zM506.73 101.15h17.77v5.13h-17.77zM326.35 106.28h6.22v5.13h-6.22zM512.95 106.28h11.55v5.13h-11.55zM332.57 111.41h6.22v5.13h-6.22zM512.95 111.41h11.55v5.13h-11.55zM332.57 116.55h6.22v5.13h-6.22zM326.35 121.68h6.22v5.13h-6.22zM326.35 126.82h6.22v5.13h-6.22zM320.13 131.95h6.22v5.13h-6.22zM313.91 137.09h6.22v5.13h-6.22zM264.15 142.22h6.22v5.13h-6.22zM313.91 142.22h6.22v5.13h-6.22zM289.03 147.36h18.66v5.13h-18.66zM388.55 239.78h6.22v5.13h-6.22zM382.33 244.92h6.22v5.13h-6.22zM382.33 250.05h6.22v5.13h-6.22zM382.33 255.19h6.22v5.13h-6.22zM226.83 260.32h6.22v5.13h-6.22zM264.15 260.32h49.76v5.13h-49.76zM382.33 260.32h6.22v5.13h-6.22zM201.95 265.46h6.22v5.13h-6.22zM313.91 265.46h80.86v5.13h-80.86zM419.65 265.46h6.22v5.13h-6.22zM183.29 270.59h6.22v5.13h-6.22zM313.91 270.59h105.74v5.13h-105.74zM313.91 275.73h80.86v5.13h-80.86zM170.85 280.86h6.22v5.13h-6.22zM357.45 280.86h12.44v5.13h-12.44zM363.67 286h6.22v5.13h-6.22zM164.63 291.13h6.22v5.13h-6.22zM363.67 291.13h18.66v5.13h-18.66zM326.35 296.27h68.42v5.13h-68.42zM407.21 296.27h6.22v5.13h-6.22zM456.97 296.27h6.22v5.13h-6.22zM158.41 301.40h6.22v5.13h-6.22zM326.35 301.40h80.86v5.13h-80.86zM114.87 306.54h43.54v5.13h-43.54zM326.35 306.54h68.42v5.13h-68.42zM326.35 311.67h68.42v5.13h-68.42zM326.35 316.80h68.42v5.13h-68.42zM326.35 321.94h80.86v5.13h-80.86zM326.35 327.07h68.42v5.13h-68.42zM407.21 327.07h6.22v5.13h-6.22zM313.91 332.21h80.86v5.13h-80.86zM413.43 332.21h6.22v5.13h-6.22zM74.50 357.88h9.27v5.13h-9.27z"/>
<path fill="#cd4400" d="M320.13 85.74h6.22v5.13h-6.22zM512.95 85.74h11.55v5.13h-11.55zM270.37 90.88h6.22v5.13h-6.22zM506.73 90.88h6.22v5.13h-6.22zM500.51 96.01h6.22v5.13h-6.22zM257.93 101.15h6.22v5.13h-6.22zM500.51 101.15h6.22v5.13h-6.22zM257.93 106.28h6.22v5.13h-6.22zM332.57 106.28h6.22v5.13h-6.22zM506.73 106.28h6.22v5.13h-6.22zM506.73 111.41h6.22v5.13h-6.22zM332.57 126.82h6.22v5.13h-6.22zM257.93 142.22h6.22v5.13h-6.22zM320.13 142.22h6.22v5.13h-6.22zM282.81 147.36h6.22v5.13h-6.22zM382.33 239.78h6.22v5.13h-6.22zM220.61 260.32h6.22v5.13h-6.22zM313.91 260.32h68.42v5.13h-68.42zM394.77 275.73h6.22v5.13h-6.22zM376.11 280.86h6.22v5.13h-6.22zM369.89 286h6.22v5.13h-6.22zM382.33 291.13h6.22v5.13h-6.22zM158.41 296.27h6.22v5.13h-6.22zM394.77 296.27h6.22v5.13h-6.22zM394.77 327.07h6.22v5.13h-6.22zM394.77 332.21h6.22v5.13h-6.22zM407.21 332.21h6.22v5.13h-6.22zM74.50 352.75h15.49v5.13h-15.49z"/>
<path fill="#cc4200" d="M282.81 90.88h6.22v5.13h-6.22zM313.91 90.88h6.22v5.13h-6.22zM270.37 96.01h6.22v5.13h-6.22zM320.13 101.15h6.22v5.13h-6.22zM307.69 142.22h6.22v5.13h-6.22zM419.65 239.78h6.22v5.13h-6.22zM233.05 260.32h6.22v5.13h-6.22zM257.93 260.32h6.22v5.13h-6.22zM419.65 260.32h6.22v5.13h-6.22zM307.69 265.46h6.22v5.13h-6.22zM307.69 270.59h6.22v5.13h-6.22zM307.69 275.73h6.22v5.13h-6.22zM313.91 280.86h43.54v5.13h-43.54zM357.45 286h6.22v5.13h-6.22zM357.45 291.13h6.22v5.13h-6.22zM114.87 311.67h43.54v5.13h-43.54zM74.50 363.02h9.27v5.13h-9.27z"/>
<path fill="#cb4100" d="M289.03 90.88h18.66v5.13h-18.66zM276.59 96.01h6.22v5.13h-6.22zM313.91 96.01h6.22v5.13h-6.22zM270.37 101.15h6.22v5.13h-6.22zM320.13 106.28h6.22v5.13h-6.22zM264.15 111.41h6.22v5.13h-6.22zM326.35 111.41h6.22v5.13h-6.22zM264.15 116.55h6.22v5.13h-6.22zM326.35 116.55h6.22v5.13h-6.22zM264.15 121.68h6.22v5.13h-6.22zM264.15 126.82h6.22v5.13h-6.22zM320.13 126.82h6.22v5.13h-6.22zM264.15 131.95h6.22v5.13h-6.22zM313.91 131.95h6.22v5.13h-6.22zM264.15 137.09h6.22v5.13h-6.22zM307.69 137.09h6.22v5.13h-6.22zM276.59 142.22h12.44v5.13h-12.44zM295.25 142.22h12.44v5.13h-12.44zM388.55 244.92h6.22v5.13h-6.22zM388.55 250.05h6.22v5.13h-6.22zM388.55 255.19h6.22v5.13h-6.22zM419.65 255.19h6.22v5.13h-6.22zM239.27 260.32h18.66v5.13h-18.66zM264.15 265.46h43.54v5.13h-43.54zM400.99 265.46h18.66v5.13h-18.66zM301.47 270.59h6.22v5.13h-6.22zM177.07 275.73h6.22v5.13h-6.22zM301.47 275.73h6.22v5.13h-6.22zM307.69 280.86h6.22v5.13h-6.22zM170.85 286h6.22v5.13h-6.22zM313.91 286h43.54v5.13h-43.54zM313.91 291.13h12.44v5.13h-12.44zM481.85 291.13h6.22v5.13h-6.22zM512.95 291.13h11.55v5.13h-11.55zM164.63 296.27h6.22v5.13h-6.22zM313.91 296.27h6.22v5.13h-6.22zM413.43 296.27h43.54v5.13h-43.54zM313.91 301.40h6.22v5.13h-6.22zM407.21 301.40h6.22v5.13h-6.22zM475.63 301.40h6.22v5.13h-6.22zM158.41 306.54h6.22v5.13h-6.22zM313.91 306.54h6.22v5.13h-6.22zM400.99 306.54h6.22v5.13h-6.22zM313.91 311.67h6.22v5.13h-6.22zM400.99 311.67h6.22v5.13h-6.22zM108.65 316.80h49.76v5.13h-49.76zM313.91 316.80h6.22v5.13h-6.22zM400.99 316.80h6.22v5.13h-6.22zM108.65 321.94h49.76v5.13h-49.76zM313.91 321.94h6.22v5.13h-6.22zM407.21 321.94h6.22v5.13h-6.22zM313.91 327.07h6.22v5.13h-6.22zM413.43 327.07h6.22v5.13h-6.22zM307.69 332.21h6.22v5.13h-6.22zM419.65 332.21h6.22v5.13h-6.22zM463.19 332.21h6.22v5.13h-6.22zM177.07 337.34h6.22v5.13h-6.22zM394.77 337.34h6.22v5.13h-6.22zM400.99 342.48h18.66v5.13h-18.66zM74.50 368.15h3.05v5.13h-3.05zM74.50 409.23h450v5.13h-450zM74.50 414.37h450v5.13h-450z"/>
<path fill="#cb4200" d="M307.69 90.88h6.22v5.13h-6.22zM264.15 106.28h6.22v5.13h-6.22zM270.37 142.22h6.22v5.13h-6.22zM388.55 260.32h6.22v5.13h-6.22zM394.77 265.46h6.22v5.13h-6.22zM326.35 291.13h31.10v5.13h-31.10zM320.13 296.27h6.22v5.13h-6.22zM320.13 301.40h6.22v5.13h-6.22zM320.13 306.54h6.22v5.13h-6.22zM394.77 306.54h6.22v5.13h-6.22zM320.13 311.67h6.22v5.13h-6.22zM394.77 311.67h6.22v5.13h-6.22zM320.13 316.80h6.22v5.13h-6.22zM394.77 316.80h6.22v5.13h-6.22zM320.13 321.94h6.22v5.13h-6.22zM320.13 327.07h6.22v5.13h-6.22zM400.99 337.34h18.66v5.13h-18.66z"/>
<path fill="#d45500" d="M400.99 90.88h18.66v5.13h-18.66zM400.99 96.01h24.88v5.13h-24.88zM419.65 101.15h6.22v5.13h-6.22zM419.65 106.28h6.22v5.13h-6.22zM121.09 131.95h6.22v5.13h-6.22zM432.09 142.22h6.22v5.13h-6.22zM133.53 152.49h6.22v5.13h-6.22zM450.75 178.17h6.22v5.13h-6.22zM220.61 198.71h6.22v5.13h-6.22zM158.41 260.32h6.22v5.13h-6.22zM74.50 301.40h46.59v5.13h-46.59z"/>
<path fill="#cb4000" d="M282.81 96.01h6.22v5.13h-6.22zM307.69 96.01h6.22v5.13h-6.22zM270.37 106.28h6.22v5.13h-6.22zM320.13 121.68h6.22v5.13h-6.22zM270.37 137.09h6.22v5.13h-6.22zM289.03 142.22h6.22v5.13h-6.22zM394.77 239.78h6.22v5.13h-6.22zM419.65 244.92h6.22v5.13h-6.22zM419.65 250.05h6.22v5.13h-6.22zM189.51 270.59h6.22v5.13h-6.22zM295.25 270.59h6.22v5.13h-6.22zM164.63 301.40h6.22v5.13h-6.22zM469.41 301.40h6.22v5.13h-6.22zM158.41 311.67h6.22v5.13h-6.22zM102.43 327.07h55.98v5.13h-55.98zM313.91 337.34h80.86v5.13h-80.86zM177.07 342.48h6.22v5.13h-6.22zM74.50 373.29h3.05v5.13h-3.05zM74.50 404.10h450v5.13h-450z"/>
<path fill="#ca3f00" d="M289.03 96.01h18.66v5.13h-18.66zM270.37 111.41h6.22v5.13h-6.22zM320.13 111.41h6.22v5.13h-6.22zM270.37 116.55h6.22v5.13h-6.22zM320.13 116.55h6.22v5.13h-6.22zM270.37 121.68h6.22v5.13h-6.22zM270.37 126.82h6.22v5.13h-6.22zM282.81 137.09h18.66v5.13h-18.66zM407.21 239.78h6.22v5.13h-6.22zM407.21 260.32h12.44v5.13h-12.44zM257.93 265.46h6.22v5.13h-6.22zM264.15 270.59h31.10v5.13h-31.10zM295.25 275.73h6.22v5.13h-6.22zM177.07 280.86h6.22v5.13h-6.22zM301.47 280.86h6.22v5.13h-6.22zM307.69 286h6.22v5.13h-6.22zM170.85 291.13h6.22v5.13h-6.22zM307.69 291.13h6.22v5.13h-6.22zM506.73 291.13h6.22v5.13h-6.22zM307.69 296.27h6.22v5.13h-6.22zM481.85 296.27h6.22v5.13h-6.22zM307.69 301.40h6.22v5.13h-6.22zM413.43 301.40h6.22v5.13h-6.22zM463.19 301.40h6.22v5.13h-6.22zM307.69 306.54h6.22v5.13h-6.22zM407.21 306.54h6.22v5.13h-6.22zM164.63 311.67h6.22v5.13h-6.22zM307.69 311.67h6.22v5.13h-6.22zM407.21 311.67h6.22v5.13h-6.22zM307.69 316.80h6.22v5.13h-6.22zM407.21 316.80h6.22v5.13h-6.22zM158.41 321.94h6.22v5.13h-6.22zM307.69 321.94h6.22v5.13h-6.22zM413.43 321.94h6.22v5.13h-6.22zM158.41 327.07h6.22v5.13h-6.22zM307.69 327.07h6.22v5.13h-6.22zM419.65 327.07h6.22v5.13h-6.22zM158.41 332.21h6.22v5.13h-6.22zM170.85 332.21h6.22v5.13h-6.22zM456.97 332.21h6.22v5.13h-6.22zM96.21 337.34h74.64v5.13h-74.64zM183.29 337.34h6.22v5.13h-6.22zM307.69 337.34h6.22v5.13h-6.22zM170.85 342.48h6.22v5.13h-6.22zM313.91 342.48h80.86v5.13h-80.86zM425.87 342.48h31.10v5.13h-31.10zM394.77 347.61h6.22v5.13h-6.22zM177.07 352.75h6.22v5.13h-6.22zM400.99 352.75h55.98v5.13h-55.98zM74.50 378.42h450v5.13h-450zM74.50 383.56h450v5.13h-450zM74.50 388.69h450v5.13h-450z"/>
<path fill="#ca4000" d="M276.59 101.15h6.22v5.13h-6.22zM313.91 101.15h6.22v5.13h-6.22zM313.91 126.82h6.22v5.13h-6.22zM270.37 131.95h6.22v5.13h-6.22zM307.69 131.95h6.22v5.13h-6.22zM276.59 137.09h6.22v5.13h-6.22zM301.47 137.09h6.22v5.13h-6.22zM413.43 239.78h6.22v5.13h-6.22zM394.77 260.32h6.22v5.13h-6.22zM208.17 265.46h6.22v5.13h-6.22zM164.63 306.54h6.22v5.13h-6.22zM158.41 316.80h6.22v5.13h-6.22zM102.43 332.21h55.98v5.13h-55.98zM177.07 332.21h6.22v5.13h-6.22zM301.47 332.21h6.22v5.13h-6.22zM425.87 332.21h6.22v5.13h-6.22zM170.85 337.34h6.22v5.13h-6.22zM419.65 337.34h6.22v5.13h-6.22zM394.77 342.48h6.22v5.13h-6.22zM419.65 342.48h6.22v5.13h-6.22zM177.07 347.61h6.22v5.13h-6.22zM400.99 347.61h55.98v5.13h-55.98zM74.50 393.83h450v5.13h-450zM74.50 398.96h450v5.13h-450z"/>
<path fill="#ca3e00" d="M282.81 101.15h6.22v5.13h-6.22zM307.69 101.15h6.22v5.13h-6.22zM276.59 106.28h6.22v5.13h-6.22zM313.91 106.28h6.22v5.13h-6.22zM295.25 280.86h6.22v5.13h-6.22zM481.85 301.40h6.22v5.13h-6.22zM295.25 332.21h6.22v5.13h-6.22zM432.09 332.21h6.22v5.13h-6.22zM183.29 342.48h6.22v5.13h-6.22zM170.85 347.61h6.22v5.13h-6.22zM170.85 352.75h6.22v5.13h-6.22zM394.77 352.75h6.22v5.13h-6.22zM77.55 373.29h446.95v5.13h-446.95z"/>
<path fill="#c93d00" d="M289.03 101.15h18.66v5.13h-18.66zM282.81 106.28h6.22v5.13h-6.22zM307.69 106.28h6.22v5.13h-6.22zM276.59 111.41h6.22v5.13h-6.22zM313.91 111.41h6.22v5.13h-6.22zM276.59 116.55h6.22v5.13h-6.22zM313.91 116.55h6.22v5.13h-6.22zM276.59 121.68h6.22v5.13h-6.22zM307.69 121.68h6.22v5.13h-6.22zM276.59 126.82h12.44v5.13h-12.44zM301.47 126.82h6.22v5.13h-6.22zM289.03 131.95h6.22v5.13h-6.22zM394.77 250.05h6.22v5.13h-6.22zM413.43 255.19h6.22v5.13h-6.22zM214.39 265.46h43.54v5.13h-43.54zM257.93 270.59h6.22v5.13h-6.22zM183.29 275.73h6.22v5.13h-6.22zM264.15 275.73h31.10v5.13h-31.10zM289.03 280.86h6.22v5.13h-6.22zM177.07 286h6.22v5.13h-6.22zM289.03 286h18.66v5.13h-18.66zM295.25 291.13h12.44v5.13h-12.44zM488.07 291.13h18.66v5.13h-18.66zM170.85 296.27h6.22v5.13h-6.22zM301.47 296.27h6.22v5.13h-6.22zM512.95 296.27h11.55v5.13h-11.55zM170.85 301.40h6.22v5.13h-6.22zM301.47 301.40h6.22v5.13h-6.22zM419.65 301.40h6.22v5.13h-6.22zM512.95 301.40h11.55v5.13h-11.55zM301.47 306.54h6.22v5.13h-6.22zM413.43 306.54h6.22v5.13h-6.22zM475.63 306.54h18.66v5.13h-18.66zM512.95 306.54h11.55v5.13h-11.55zM301.47 311.67h6.22v5.13h-6.22zM413.43 311.67h6.22v5.13h-6.22zM475.63 311.67h18.66v5.13h-18.66zM512.95 311.67h11.55v5.13h-11.55zM301.47 316.80h6.22v5.13h-6.22zM413.43 316.80h6.22v5.13h-6.22zM475.63 316.80h48.87v5.13h-48.87zM301.47 321.94h6.22v5.13h-6.22zM475.63 321.94h6.22v5.13h-6.22zM512.95 321.94h11.55v5.13h-11.55zM170.85 327.07h6.22v5.13h-6.22zM289.03 327.07h18.66v5.13h-18.66zM425.87 327.07h6.22v5.13h-6.22zM463.19 327.07h18.66v5.13h-18.66zM512.95 327.07h11.55v5.13h-11.55zM183.29 332.21h6.22v5.13h-6.22zM282.81 332.21h12.44v5.13h-12.44zM438.31 332.21h18.66v5.13h-18.66zM469.41 332.21h6.22v5.13h-6.22zM189.51 337.34h6.22v5.13h-6.22zM214.39 337.34h6.22v5.13h-6.22zM189.51 342.48h6.22v5.13h-6.22zM214.39 342.48h6.22v5.13h-6.22zM301.47 342.48h6.22v5.13h-6.22zM463.19 342.48h6.22v5.13h-6.22zM89.99 347.61h80.86v5.13h-80.86zM307.69 347.61h6.22v5.13h-6.22zM307.69 352.75h6.22v5.13h-6.22zM183.29 357.88h49.76v5.13h-49.76zM307.69 357.88h87.08v5.13h-87.08zM456.97 357.88h12.44v5.13h-12.44zM189.51 363.02h49.76v5.13h-49.76zM270.37 363.02h43.54v5.13h-43.54zM463.19 363.02h12.44v5.13h-12.44z"/>
<path fill="#d55600" d="M400.99 101.15h18.66v5.13h-18.66zM394.77 106.28h6.22v5.13h-6.22zM388.55 111.41h6.22v5.13h-6.22zM419.65 111.41h6.22v5.13h-6.22zM89.99 126.82h31.10v5.13h-31.10zM382.33 126.82h6.22v5.13h-6.22zM425.87 126.82h6.22v5.13h-6.22zM74.50 131.95h9.27v5.13h-9.27zM382.33 131.95h6.22v5.13h-6.22zM425.87 131.95h6.22v5.13h-6.22zM432.09 137.09h6.22v5.13h-6.22zM488.07 137.09h36.43v5.13h-36.43zM400.99 142.22h6.22v5.13h-6.22zM475.63 142.22h18.66v5.13h-18.66zM127.31 147.36h6.22v5.13h-6.22zM469.41 147.36h6.22v5.13h-6.22zM463.19 152.49h6.22v5.13h-6.22zM164.63 162.76h31.10v5.13h-31.10zM201.95 167.90h6.22v5.13h-6.22zM208.17 173.03h6.22v5.13h-6.22zM214.39 193.57h6.22v5.13h-6.22zM438.31 198.71h6.22v5.13h-6.22zM220.61 203.84h6.22v5.13h-6.22zM438.31 203.84h6.22v5.13h-6.22zM438.31 208.98h6.22v5.13h-6.22zM226.83 214.11h6.22v5.13h-6.22zM226.83 219.24h6.22v5.13h-6.22zM226.83 224.38h6.22v5.13h-6.22zM456.97 234.65h6.22v5.13h-6.22zM226.83 239.78h6.22v5.13h-6.22zM214.39 244.92h6.22v5.13h-6.22zM463.19 244.92h6.22v5.13h-6.22zM189.51 250.05h6.22v5.13h-6.22zM170.85 255.19h6.22v5.13h-6.22zM469.41 255.19h6.22v5.13h-6.22zM475.63 265.46h6.22v5.13h-6.22zM488.07 270.59h6.22v5.13h-6.22zM500.51 275.73h23.99v5.13h-23.99z"/>
<path fill="#c93c00" d="M289.03 106.28h18.66v5.13h-18.66zM282.81 111.41h6.22v5.13h-6.22zM307.69 111.41h6.22v5.13h-6.22zM307.69 116.55h6.22v5.13h-6.22zM295.25 126.82h6.22v5.13h-6.22zM407.21 255.19h6.22v5.13h-6.22zM195.73 270.59h6.22v5.13h-6.22zM282.81 280.86h6.22v5.13h-6.22zM456.97 301.40h6.22v5.13h-6.22zM494.29 311.67h6.22v5.13h-6.22zM506.73 311.67h6.22v5.13h-6.22zM295.25 321.94h6.22v5.13h-6.22zM419.65 321.94h6.22v5.13h-6.22zM481.85 321.94h6.22v5.13h-6.22zM506.73 321.94h6.22v5.13h-6.22zM295.25 337.34h6.22v5.13h-6.22zM189.51 352.75h43.54v5.13h-43.54zM463.19 352.75h6.22v5.13h-6.22zM239.27 363.02h31.10v5.13h-31.10zM475.63 363.02h6.22v5.13h-6.22zM512.95 363.02h11.55v5.13h-11.55z"/>
<path fill="#d65800" d="M400.99 106.28h18.66v5.13h-18.66zM394.77 111.41h6.22v5.13h-6.22zM388.55 116.55h6.22v5.13h-6.22zM419.65 121.68h6.22v5.13h-6.22zM83.77 131.95h6.22v5.13h-6.22zM114.87 131.95h6.22v5.13h-6.22zM121.09 142.22h6.22v5.13h-6.22zM425.87 142.22h6.22v5.13h-6.22zM494.29 142.22h6.22v5.13h-6.22zM469.41 152.49h6.22v5.13h-6.22zM158.41 162.76h6.22v5.13h-6.22zM195.73 167.90h6.22v5.13h-6.22zM208.17 183.30h6.22v5.13h-6.22zM214.39 198.71h6.22v5.13h-6.22zM220.61 208.98h6.22v5.13h-6.22zM444.53 219.24h6.22v5.13h-6.22zM444.53 224.38h6.22v5.13h-6.22zM220.61 239.78h6.22v5.13h-6.22zM201.95 244.92h6.22v5.13h-6.22zM183.29 250.05h6.22v5.13h-6.22zM475.63 260.32h6.22v5.13h-6.22zM481.85 265.46h6.22v5.13h-6.22zM494.29 270.59h6.22v5.13h-6.22zM74.50 291.13h52.81v5.13h-52.81z"/>
<path fill="#c83b00" d="M289.03 111.41h18.66v5.13h-18.66zM289.03 116.55h18.66v5.13h-18.66zM289.03 121.68h6.22v5.13h-6.22zM400.99 244.92h12.44v5.13h-12.44zM407.21 250.05h6.22v5.13h-6.22zM400.99 255.19h6.22v5.13h-6.22zM245.49 270.59h6.22v5.13h-6.22zM183.29 280.86h6.22v5.13h-6.22zM177.07 291.13h6.22v5.13h-6.22zM432.09 301.40h6.22v5.13h-6.22zM506.73 301.40h6.22v5.13h-6.22zM469.41 311.67h6.22v5.13h-6.22zM170.85 316.80h6.22v5.13h-6.22zM220.61 332.21h6.22v5.13h-6.22zM226.83 337.34h6.22v5.13h-6.22zM276.59 337.34h18.66v5.13h-18.66zM469.41 337.34h6.22v5.13h-6.22zM201.95 342.48h6.22v5.13h-6.22zM226.83 342.48h6.22v5.13h-6.22zM276.59 342.48h18.66v5.13h-18.66zM233.05 352.75h6.22v5.13h-6.22zM270.37 352.75h6.22v5.13h-6.22zM469.41 352.75h6.22v5.13h-6.22zM239.27 357.88h37.32v5.13h-37.32zM475.63 357.88h6.22v5.13h-6.22zM512.95 357.88h11.55v5.13h-11.55z"/>
<path fill="#d65a00" d="M400.99 111.41h18.66v5.13h-18.66zM394.77 116.55h6.22v5.13h-6.22zM388.55 121.68h6.22v5.13h-6.22zM89.99 131.95h18.66v5.13h-18.66zM388.55 131.95h6.22v5.13h-6.22zM419.65 131.95h6.22v5.13h-6.22zM74.50 137.09h9.27v5.13h-9.27zM114.87 137.09h6.22v5.13h-6.22zM400.99 137.09h6.22v5.13h-6.22zM425.87 137.09h6.22v5.13h-6.22zM500.51 142.22h23.99v5.13h-23.99zM475.63 147.36h18.66v5.13h-18.66zM127.31 152.49h6.22v5.13h-6.22zM475.63 152.49h6.22v5.13h-6.22zM463.19 157.63h6.22v5.13h-6.22zM152.19 162.76h6.22v5.13h-6.22zM463.19 162.76h6.22v5.13h-6.22zM189.51 167.90h6.22v5.13h-6.22zM201.95 173.03h6.22v5.13h-6.22zM456.97 173.03h6.22v5.13h-6.22zM214.39 203.84h6.22v5.13h-6.22zM220.61 214.11h6.22v5.13h-6.22zM444.53 214.11h6.22v5.13h-6.22zM220.61 219.24h6.22v5.13h-6.22zM220.61 224.38h6.22v5.13h-6.22zM456.97 229.51h6.22v5.13h-6.22zM226.83 234.65h6.22v5.13h-6.22zM214.39 239.78h6.22v5.13h-6.22zM463.19 239.78h6.22v5.13h-6.22zM177.07 250.05h6.22v5.13h-6.22zM152.19 255.19h6.22v5.13h-6.22zM475.63 255.19h6.22v5.13h-6.22zM481.85 260.32h6.22v5.13h-6.22zM488.07 265.46h6.22v5.13h-6.22zM500.51 270.59h23.99v5.13h-23.99zM74.50 286h52.81v5.13h-52.81z"/>
<path fill="#c83c00" d="M282.81 116.55h6.22v5.13h-6.22zM282.81 121.68h6.22v5.13h-6.22zM295.25 121.68h12.44v5.13h-12.44zM289.03 126.82h6.22v5.13h-6.22zM413.43 244.92h6.22v5.13h-6.22zM413.43 250.05h6.22v5.13h-6.22zM251.71 270.59h6.22v5.13h-6.22zM257.93 275.73h6.22v5.13h-6.22zM264.15 280.86h18.66v5.13h-18.66zM282.81 286h6.22v5.13h-6.22zM289.03 291.13h6.22v5.13h-6.22zM295.25 296.27h6.22v5.13h-6.22zM295.25 301.40h6.22v5.13h-6.22zM425.87 301.40h6.22v5.13h-6.22zM488.07 301.40h6.22v5.13h-6.22zM170.85 306.54h6.22v5.13h-6.22zM295.25 306.54h6.22v5.13h-6.22zM469.41 306.54h6.22v5.13h-6.22zM494.29 306.54h6.22v5.13h-6.22zM506.73 306.54h6.22v5.13h-6.22zM170.85 311.67h6.22v5.13h-6.22zM295.25 311.67h6.22v5.13h-6.22zM500.51 311.67h6.22v5.13h-6.22zM295.25 316.80h6.22v5.13h-6.22zM170.85 321.94h6.22v5.13h-6.22zM289.03 321.94h6.22v5.13h-6.22zM469.41 321.94h6.22v5.13h-6.22zM488.07 321.94h18.66v5.13h-18.66zM177.07 327.07h6.22v5.13h-6.22zM282.81 327.07h6.22v5.13h-6.22zM432.09 327.07h6.22v5.13h-6.22zM456.97 327.07h6.22v5.13h-6.22zM481.85 327.07h6.22v5.13h-6.22zM506.73 327.07h6.22v5.13h-6.22zM226.83 332.21h6.22v5.13h-6.22zM276.59 332.21h6.22v5.13h-6.22zM195.73 337.34h6.22v5.13h-6.22zM208.17 337.34h6.22v5.13h-6.22zM220.61 337.34h6.22v5.13h-6.22zM195.73 342.48h6.22v5.13h-6.22zM208.17 342.48h6.22v5.13h-6.22zM220.61 342.48h6.22v5.13h-6.22zM295.25 342.48h6.22v5.13h-6.22zM189.51 347.61h43.54v5.13h-43.54zM276.59 347.61h31.10v5.13h-31.10zM463.19 347.61h6.22v5.13h-6.22zM276.59 352.75h31.10v5.13h-31.10zM233.05 357.88h6.22v5.13h-6.22zM276.59 357.88h31.10v5.13h-31.10zM469.41 357.88h6.22v5.13h-6.22zM481.85 363.02h31.10v5.13h-31.10z"/>
<path fill="#d75c00" d="M400.99 116.55h18.66v5.13h-18.66zM394.77 121.68h6.22v5.13h-6.22zM388.55 126.82h6.22v5.13h-6.22zM83.77 137.09h6.22v5.13h-6.22zM108.65 137.09h6.22v5.13h-6.22zM114.87 142.22h6.22v5.13h-6.22zM450.75 183.30h6.22v5.13h-6.22zM208.17 188.44h6.22v5.13h-6.22z"/>
<path fill="#d55700" d="M419.65 116.55h6.22v5.13h-6.22zM121.09 137.09h6.22v5.13h-6.22zM394.77 137.09h6.22v5.13h-6.22zM208.17 178.17h6.22v5.13h-6.22zM226.83 229.51h6.22v5.13h-6.22zM208.17 244.92h6.22v5.13h-6.22zM164.63 255.19h6.22v5.13h-6.22zM152.19 260.32h6.22v5.13h-6.22zM74.50 296.27h46.59v5.13h-46.59z"/>
<path fill="#c93e00" d="M313.91 121.68h6.22v5.13h-6.22zM307.69 126.82h6.22v5.13h-6.22zM276.59 131.95h12.44v5.13h-12.44zM295.25 131.95h12.44v5.13h-12.44zM400.99 239.78h6.22v5.13h-6.22zM394.77 244.92h6.22v5.13h-6.22zM394.77 255.19h6.22v5.13h-6.22zM400.99 260.32h6.22v5.13h-6.22zM164.63 316.80h6.22v5.13h-6.22zM164.63 321.94h6.22v5.13h-6.22zM164.63 327.07h6.22v5.13h-6.22zM164.63 332.21h6.22v5.13h-6.22zM301.47 337.34h6.22v5.13h-6.22zM425.87 337.34h43.54v5.13h-43.54zM96.21 342.48h74.64v5.13h-74.64zM307.69 342.48h6.22v5.13h-6.22zM456.97 342.48h6.22v5.13h-6.22zM183.29 347.61h6.22v5.13h-6.22zM313.91 347.61h80.86v5.13h-80.86zM456.97 347.61h6.22v5.13h-6.22zM89.99 352.75h80.86v5.13h-80.86zM183.29 352.75h6.22v5.13h-6.22zM313.91 352.75h80.86v5.13h-80.86zM456.97 352.75h6.22v5.13h-6.22zM83.77 357.88h99.52v5.13h-99.52zM394.77 357.88h62.20v5.13h-62.20zM83.77 363.02h105.74v5.13h-105.74zM313.91 363.02h149.28v5.13h-149.28zM77.55 368.15h446.95v5.13h-446.95z"/>
<path fill="#d85d00" d="M400.99 121.68h18.66v5.13h-18.66zM89.99 137.09h18.66v5.13h-18.66zM74.50 142.22h9.27v5.13h-9.27zM413.43 142.22h6.22v5.13h-6.22zM463.19 167.90h6.22v5.13h-6.22zM214.39 208.98h6.22v5.13h-6.22zM189.51 244.92h6.22v5.13h-6.22zM74.50 280.86h59.03v5.13h-59.03z"/>
<path fill="#d85e00" d="M394.77 126.82h6.22v5.13h-6.22zM394.77 131.95h6.22v5.13h-6.22zM407.21 137.09h6.22v5.13h-6.22zM419.65 137.09h6.22v5.13h-6.22zM83.77 142.22h6.22v5.13h-6.22zM108.65 142.22h6.22v5.13h-6.22zM494.29 260.32h6.22v5.13h-6.22z"/>
<path fill="#d85f00" d="M400.99 126.82h6.22v5.13h-6.22zM413.43 131.95h6.22v5.13h-6.22zM89.99 142.22h18.66v5.13h-18.66zM500.51 147.36h23.99v5.13h-23.99zM121.09 152.49h6.22v5.13h-6.22zM488.07 152.49h6.22v5.13h-6.22zM127.31 157.63h6.22v5.13h-6.22zM475.63 157.63h6.22v5.13h-6.22zM139.75 162.76h6.22v5.13h-6.22zM469.41 162.76h6.22v5.13h-6.22zM177.07 167.90h6.22v5.13h-6.22zM189.51 173.03h6.22v5.13h-6.22zM201.95 183.30h6.22v5.13h-6.22zM208.17 193.57h6.22v5.13h-6.22zM214.39 214.11h6.22v5.13h-6.22zM214.39 219.24h6.22v5.13h-6.22zM450.75 219.24h6.22v5.13h-6.22zM214.39 224.38h6.22v5.13h-6.22zM450.75 224.38h6.22v5.13h-6.22zM214.39 229.51h6.22v5.13h-6.22zM214.39 234.65h6.22v5.13h-6.22zM463.19 234.65h6.22v5.13h-6.22zM201.95 239.78h6.22v5.13h-6.22zM183.29 244.92h6.22v5.13h-6.22zM164.63 250.05h6.22v5.13h-6.22zM475.63 250.05h6.22v5.13h-6.22zM488.07 255.19h18.66v5.13h-18.66zM500.51 260.32h6.22v5.13h-6.22zM500.51 265.46h23.99v5.13h-23.99z"/>
<path fill="#d96000" d="M407.21 126.82h6.22v5.13h-6.22zM407.21 131.95h6.22v5.13h-6.22zM114.87 147.36h6.22v5.13h-6.22zM444.53 198.71h6.22v5.13h-6.22zM506.73 260.32h6.22v5.13h-6.22zM74.50 275.73h65.25v5.13h-65.25z"/>
<path fill="#d96100" d="M413.43 126.82h6.22v5.13h-6.22zM400.99 131.95h6.22v5.13h-6.22zM413.43 137.09h6.22v5.13h-6.22zM108.65 147.36h6.22v5.13h-6.22zM494.29 152.49h6.22v5.13h-6.22zM481.85 157.63h6.22v5.13h-6.22zM170.85 167.90h6.22v5.13h-6.22zM450.75 188.44h6.22v5.13h-6.22zM208.17 234.65h6.22v5.13h-6.22zM195.73 239.78h6.22v5.13h-6.22zM158.41 250.05h6.22v5.13h-6.22zM481.85 250.05h6.22v5.13h-6.22zM506.73 255.19h6.22v5.13h-6.22zM512.95 260.32h11.55v5.13h-11.55z"/>
<path fill="#d75b00" d="M419.65 126.82h6.22v5.13h-6.22zM419.65 142.22h6.22v5.13h-6.22zM121.09 147.36h6.22v5.13h-6.22zM444.53 193.57h6.22v5.13h-6.22zM220.61 229.51h6.22v5.13h-6.22zM195.73 244.92h6.22v5.13h-6.22z"/>
<path fill="#d65900" d="M108.65 131.95h6.22v5.13h-6.22zM407.21 142.22h6.22v5.13h-6.22zM133.53 157.63h6.22v5.13h-6.22zM444.53 188.44h6.22v5.13h-6.22zM469.41 250.05h6.22v5.13h-6.22zM158.41 255.19h6.22v5.13h-6.22z"/>
<path fill="#d96200" d="M74.50 147.36h34.15v5.13h-34.15zM456.97 178.17h6.22v5.13h-6.22zM208.17 198.71h6.22v5.13h-6.22zM450.75 214.11h6.22v5.13h-6.22zM177.07 244.92h6.22v5.13h-6.22z"/>
<path fill="#d75d00" d="M494.29 147.36h6.22v5.13h-6.22zM481.85 152.49h6.22v5.13h-6.22zM469.41 157.63h6.22v5.13h-6.22zM145.97 162.76h6.22v5.13h-6.22zM183.29 167.90h6.22v5.13h-6.22zM195.73 173.03h6.22v5.13h-6.22zM201.95 178.17h6.22v5.13h-6.22zM444.53 203.84h6.22v5.13h-6.22zM444.53 208.98h6.22v5.13h-6.22zM220.61 234.65h6.22v5.13h-6.22zM208.17 239.78h6.22v5.13h-6.22zM469.41 244.92h6.22v5.13h-6.22zM170.85 250.05h6.22v5.13h-6.22zM481.85 255.19h6.22v5.13h-6.22zM488.07 260.32h6.22v5.13h-6.22zM494.29 265.46h6.22v5.13h-6.22z"/>
<path fill="#db6700" d="M74.50 152.49h34.15v5.13h-34.15zM164.63 244.92h6.22v5.13h-6.22z"/>
<path fill="#db6500" d="M108.65 152.49h6.22v5.13h-6.22zM208.17 208.98h6.22v5.13h-6.22z"/>
<path fill="#da6400" d="M114.87 152.49h6.22v5.13h-6.22zM500.51 152.49h23.99v5.13h-23.99zM121.09 157.63h6.22v5.13h-6.22zM488.07 157.63h6.22v5.13h-6.22zM133.53 162.76h6.22v5.13h-6.22zM475.63 162.76h6.22v5.13h-6.22zM152.19 167.90h18.66v5.13h-18.66zM183.29 173.03h6.22v5.13h-6.22zM201.95 188.44h6.22v5.13h-6.22zM208.17 203.84h6.22v5.13h-6.22zM450.75 203.84h6.22v5.13h-6.22zM450.75 208.98h6.22v5.13h-6.22zM208.17 229.51h6.22v5.13h-6.22zM463.19 229.51h6.22v5.13h-6.22zM201.95 234.65h6.22v5.13h-6.22zM189.51 239.78h6.22v5.13h-6.22zM170.85 244.92h6.22v5.13h-6.22zM475.63 244.92h6.22v5.13h-6.22zM152.19 250.05h6.22v5.13h-6.22zM488.07 250.05h36.43v5.13h-36.43zM512.95 255.19h11.55v5.13h-11.55z"/>
<path fill="#dd6c00" d="M74.50 157.63h34.15v5.13h-34.15zM494.29 162.76h6.22v5.13h-6.22zM488.07 167.90h6.22v5.13h-6.22zM170.85 173.03h6.22v5.13h-6.22zM201.95 198.71h6.22v5.13h-6.22zM456.97 203.84h6.22v5.13h-6.22zM456.97 208.98h6.22v5.13h-6.22zM183.29 234.65h6.22v5.13h-6.22zM170.85 239.78h6.22v5.13h-6.22zM152.19 244.92h6.22v5.13h-6.22z"/>
<path fill="#dc6b00" d="M108.65 157.63h6.22v5.13h-6.22zM481.85 167.90h6.22v5.13h-6.22zM456.97 214.11h6.22v5.13h-6.22z"/>
<path fill="#dc6900" d="M114.87 157.63h6.22v5.13h-6.22zM500.51 157.63h23.99v5.13h-23.99zM127.31 162.76h6.22v5.13h-6.22zM488.07 162.76h6.22v5.13h-6.22zM145.97 167.90h6.22v5.13h-6.22zM475.63 167.90h6.22v5.13h-6.22zM177.07 173.03h6.22v5.13h-6.22zM189.51 178.17h6.22v5.13h-6.22zM195.73 183.30h6.22v5.13h-6.22zM201.95 193.57h6.22v5.13h-6.22zM456.97 219.24h6.22v5.13h-6.22zM456.97 224.38h6.22v5.13h-6.22zM201.95 229.51h6.22v5.13h-6.22zM189.51 234.65h6.22v5.13h-6.22zM177.07 239.78h6.22v5.13h-6.22zM158.41 244.92h6.22v5.13h-6.22zM488.07 244.92h36.43v5.13h-36.43zM145.97 250.05h6.22v5.13h-6.22z"/>
<path fill="#db6600" d="M494.29 157.63h6.22v5.13h-6.22zM481.85 162.76h6.22v5.13h-6.22zM463.19 173.03h6.22v5.13h-6.22zM450.75 193.57h6.22v5.13h-6.22zM208.17 214.11h6.22v5.13h-6.22zM208.17 219.24h6.22v5.13h-6.22zM208.17 224.38h6.22v5.13h-6.22zM195.73 234.65h6.22v5.13h-6.22zM183.29 239.78h6.22v5.13h-6.22zM469.41 239.78h6.22v5.13h-6.22zM481.85 244.92h6.22v5.13h-6.22zM74.50 265.46h71.47v5.13h-71.47z"/>
<path fill="#e07400" d="M74.50 162.76h34.15v5.13h-34.15zM512.95 162.76h11.55v5.13h-11.55zM127.31 167.90h6.22v5.13h-6.22zM506.73 167.90h6.22v5.13h-6.22zM152.19 173.03h6.22v5.13h-6.22zM488.07 173.03h6.22v5.13h-6.22zM189.51 183.30h6.22v5.13h-6.22zM195.73 193.57h6.22v5.13h-6.22zM463.19 203.84h6.22v5.13h-6.22zM463.19 208.98h6.22v5.13h-6.22zM463.19 214.11h6.22v5.13h-6.22zM463.19 219.24h6.22v5.13h-6.22zM195.73 224.38h6.22v5.13h-6.22zM463.19 224.38h6.22v5.13h-6.22zM189.51 229.51h6.22v5.13h-6.22zM469.41 229.51h6.22v5.13h-6.22zM164.63 234.65h6.22v5.13h-6.22zM475.63 239.78h6.22v5.13h-6.22zM133.53 244.92h6.22v5.13h-6.22z"/>
<path fill="#df7300" d="M108.65 162.76h6.22v5.13h-6.22zM158.41 239.78h6.22v5.13h-6.22z"/>
<path fill="#df7100" d="M114.87 162.76h6.22v5.13h-6.22zM506.73 162.76h6.22v5.13h-6.22zM133.53 167.90h6.22v5.13h-6.22zM500.51 167.90h6.22v5.13h-6.22zM158.41 173.03h6.22v5.13h-6.22zM183.29 178.17h6.22v5.13h-6.22zM170.85 234.65h6.22v5.13h-6.22zM139.75 244.92h6.22v5.13h-6.22z"/>
<path fill="#dd6d00" d="M121.09 162.76h6.22v5.13h-6.22z"/>
<path fill="#de6e00" d="M500.51 162.76h6.22v5.13h-6.22zM139.75 167.90h6.22v5.13h-6.22zM164.63 173.03h6.22v5.13h-6.22zM469.41 173.03h6.22v5.13h-6.22zM195.73 188.44h6.22v5.13h-6.22zM456.97 188.44h6.22v5.13h-6.22zM456.97 193.57h6.22v5.13h-6.22zM201.95 203.84h6.22v5.13h-6.22zM201.95 208.98h6.22v5.13h-6.22zM201.95 214.11h6.22v5.13h-6.22zM201.95 219.24h6.22v5.13h-6.22zM201.95 224.38h6.22v5.13h-6.22zM195.73 229.51h6.22v5.13h-6.22zM177.07 234.65h6.22v5.13h-6.22zM469.41 234.65h6.22v5.13h-6.22zM164.63 239.78h6.22v5.13h-6.22zM74.50 250.05h71.47v5.13h-71.47zM74.50 255.19h77.69v5.13h-77.69z"/>
<path fill="#e17900" d="M74.50 167.90h46.59v5.13h-46.59zM114.87 173.03h31.10v5.13h-31.10zM500.51 173.03h6.22v5.13h-6.22zM177.07 178.17h6.22v5.13h-6.22zM488.07 178.17h6.22v5.13h-6.22zM189.51 188.44h6.22v5.13h-6.22zM469.41 193.57h6.22v5.13h-6.22zM189.51 224.38h6.22v5.13h-6.22zM183.29 229.51h6.22v5.13h-6.22zM481.85 239.78h6.22v5.13h-6.22z"/>
<path fill="#e07600" d="M121.09 167.90h6.22v5.13h-6.22zM145.97 173.03h6.22v5.13h-6.22zM475.63 173.03h6.22v5.13h-6.22zM494.29 173.03h6.22v5.13h-6.22zM469.41 178.17h6.22v5.13h-6.22zM463.19 193.57h6.22v5.13h-6.22zM463.19 198.71h6.22v5.13h-6.22zM195.73 203.84h6.22v5.13h-6.22zM195.73 208.98h6.22v5.13h-6.22zM195.73 214.11h6.22v5.13h-6.22z"/>
<path fill="#da6300" d="M469.41 167.90h6.22v5.13h-6.22zM195.73 178.17h6.22v5.13h-6.22zM74.50 270.59h65.25v5.13h-65.25z"/>
<path fill="#de6f00" d="M494.29 167.90h6.22v5.13h-6.22zM145.97 244.92h6.22v5.13h-6.22z"/>
<path fill="#e17700" d="M512.95 167.90h11.55v5.13h-11.55zM152.19 239.78h6.22v5.13h-6.22zM114.87 244.92h18.66v5.13h-18.66z"/>
<path fill="#e37f00" d="M74.50 173.03h34.15v5.13h-34.15zM512.95 173.03h11.55v5.13h-11.55zM83.77 178.17h6.22v5.13h-6.22zM183.29 183.30h6.22v5.13h-6.22zM488.07 183.30h6.22v5.13h-6.22zM481.85 188.44h6.22v5.13h-6.22zM189.51 193.57h6.22v5.13h-6.22zM189.51 198.71h6.22v5.13h-6.22zM475.63 198.71h6.22v5.13h-6.22zM189.51 203.84h6.22v5.13h-6.22zM189.51 208.98h6.22v5.13h-6.22zM189.51 214.11h6.22v5.13h-6.22zM177.07 229.51h6.22v5.13h-6.22zM475.63 234.65h6.22v5.13h-6.22zM139.75 239.78h6.22v5.13h-6.22zM488.07 239.78h36.43v5.13h-36.43z"/>
<path fill="#e27c00" d="M108.65 173.03h6.22v5.13h-6.22zM506.73 173.03h6.22v5.13h-6.22zM475.63 178.17h6.22v5.13h-6.22zM463.19 183.30h6.22v5.13h-6.22zM463.19 188.44h6.22v5.13h-6.22zM475.63 193.57h6.22v5.13h-6.22zM469.41 198.71h6.22v5.13h-6.22z"/>
<path fill="#e07500" d="M481.85 173.03h6.22v5.13h-6.22zM195.73 198.71h6.22v5.13h-6.22zM195.73 219.24h6.22v5.13h-6.22z"/>
<path fill="#e48100" d="M74.50 178.17h9.27v5.13h-9.27zM475.63 183.30h6.22v5.13h-6.22zM475.63 188.44h6.22v5.13h-6.22z"/>
<path fill="#e37e00" d="M89.99 178.17h6.22v5.13h-6.22zM170.85 178.17h6.22v5.13h-6.22zM494.29 178.17h6.22v5.13h-6.22zM469.41 183.30h6.22v5.13h-6.22zM469.41 188.44h6.22v5.13h-6.22z"/>
<path fill="#e48300" d="M96.21 178.17h6.22v5.13h-6.22zM164.63 178.17h6.22v5.13h-6.22zM74.50 183.30h9.27v5.13h-9.27zM152.19 234.65h6.22v5.13h-6.22z"/>
<path fill="#e68800" d="M102.43 178.17h18.66v5.13h-18.66zM158.41 178.17h6.22v5.13h-6.22zM183.29 188.44h6.22v5.13h-6.22zM469.41 208.98h6.22v5.13h-6.22zM481.85 234.65h6.22v5.13h-6.22zM121.09 239.78h6.22v5.13h-6.22z"/>
<path fill="#e58700" d="M121.09 178.17h6.22v5.13h-6.22zM96.21 183.30h6.22v5.13h-6.22zM183.29 219.24h6.22v5.13h-6.22zM145.97 234.65h6.22v5.13h-6.22z"/>
<path fill="#e58600" d="M127.31 178.17h6.22v5.13h-6.22zM506.73 178.17h6.22v5.13h-6.22z"/>
<path fill="#e68900" d="M133.53 178.17h6.22v5.13h-6.22z"/>
<path fill="#e78c00" d="M139.75 178.17h18.66v5.13h-18.66z"/>
<path fill="#de7000" d="M463.19 178.17h6.22v5.13h-6.22zM456.97 198.71h6.22v5.13h-6.22z"/>
<path fill="#e27a00" d="M481.85 178.17h6.22v5.13h-6.22z"/>
<path fill="#e48200" d="M500.51 178.17h6.22v5.13h-6.22zM469.41 203.84h6.22v5.13h-6.22zM469.41 219.24h6.22v5.13h-6.22zM183.29 224.38h6.22v5.13h-6.22zM469.41 224.38h6.22v5.13h-6.22zM170.85 229.51h6.22v5.13h-6.22zM133.53 239.78h6.22v5.13h-6.22z"/>
<path fill="#e68b00" d="M512.95 178.17h11.55v5.13h-11.55zM177.07 183.30h6.22v5.13h-6.22zM500.51 183.30h6.22v5.13h-6.22zM488.07 188.44h6.22v5.13h-6.22zM183.29 214.11h6.22v5.13h-6.22zM177.07 224.38h6.22v5.13h-6.22zM139.75 234.65h6.22v5.13h-6.22zM74.50 239.78h46.59v5.13h-46.59z"/>
<path fill="#e38000" d="M83.77 183.30h6.22v5.13h-6.22zM481.85 183.30h6.22v5.13h-6.22z"/>
<path fill="#e27d00" d="M89.99 183.30h6.22v5.13h-6.22zM189.51 219.24h6.22v5.13h-6.22zM74.50 244.92h34.15v5.13h-34.15z"/>
<path fill="#e89100" d="M102.43 183.30h6.22v5.13h-6.22zM506.73 183.30h6.22v5.13h-6.22zM488.07 193.57h6.22v5.13h-6.22zM475.63 203.84h6.22v5.13h-6.22zM177.07 219.24h6.22v5.13h-6.22zM170.85 224.38h6.22v5.13h-6.22zM475.63 229.51h6.22v5.13h-6.22zM127.31 234.65h6.22v5.13h-6.22zM488.07 234.65h6.22v5.13h-6.22z"/>
<path fill="#e99500" d="M108.65 183.30h6.22v5.13h-6.22zM121.09 234.65h6.22v5.13h-6.22zM494.29 234.65h6.22v5.13h-6.22z"/>
<path fill="#ea9800" d="M114.87 183.30h6.22v5.13h-6.22zM512.95 183.30h11.55v5.13h-11.55zM177.07 188.44h6.22v5.13h-6.22zM494.29 188.44h6.22v5.13h-6.22zM481.85 198.71h6.22v5.13h-6.22zM177.07 214.11h6.22v5.13h-6.22zM475.63 214.11h6.22v5.13h-6.22zM170.85 219.24h6.22v5.13h-6.22zM475.63 219.24h6.22v5.13h-6.22zM164.63 224.38h6.22v5.13h-6.22zM475.63 224.38h6.22v5.13h-6.22zM152.19 229.51h6.22v5.13h-6.22zM114.87 234.65h6.22v5.13h-6.22zM500.51 234.65h23.99v5.13h-23.99z"/>
<path fill="#e99600" d="M121.09 183.30h6.22v5.13h-6.22z"/>
<path fill="#e99400" d="M127.31 183.30h6.22v5.13h-6.22z"/>
<path fill="#eb9b00" d="M133.53 183.30h6.22v5.13h-6.22zM164.63 183.30h6.22v5.13h-6.22zM145.97 229.51h6.22v5.13h-6.22zM108.65 234.65h6.22v5.13h-6.22z"/>
<path fill="#eca100" d="M139.75 183.30h6.22v5.13h-6.22zM158.41 183.30h6.22v5.13h-6.22zM127.31 188.44h6.22v5.13h-6.22z"/>
<path fill="#eda500" d="M145.97 183.30h6.22v5.13h-6.22zM133.53 188.44h6.22v5.13h-6.22z"/>
<path fill="#eea800" d="M152.19 183.30h6.22v5.13h-6.22zM139.75 188.44h6.22v5.13h-6.22z"/>
<path fill="#e99300" d="M170.85 183.30h6.22v5.13h-6.22z"/>
<path fill="#dd6b00" d="M456.97 183.30h6.22v5.13h-6.22zM450.75 198.71h6.22v5.13h-6.22z"/>
<path fill="#e58500" d="M494.29 183.30h6.22v5.13h-6.22zM481.85 193.57h6.22v5.13h-6.22zM469.41 214.11h6.22v5.13h-6.22zM164.63 229.51h6.22v5.13h-6.22zM127.31 239.78h6.22v5.13h-6.22z"/>
<path fill="#ea9900" d="M74.50 188.44h21.71v5.13h-21.71z"/>
<path fill="#eb9d00" d="M96.21 188.44h6.22v5.13h-6.22zM158.41 224.38h6.22v5.13h-6.22z"/>
<path fill="#eca000" d="M102.43 188.44h6.22v5.13h-6.22z"/>
<path fill="#eda300" d="M108.65 188.44h6.22v5.13h-6.22zM170.85 188.44h6.22v5.13h-6.22zM152.19 224.38h6.22v5.13h-6.22z"/>
<path fill="#eea700" d="M114.87 188.44h6.22v5.13h-6.22z"/>
<path fill="#eda400" d="M121.09 188.44h6.22v5.13h-6.22zM145.97 224.38h6.22v5.13h-6.22z"/>
<path fill="#efac00" d="M145.97 188.44h6.22v5.13h-6.22z"/>
<path fill="#f0b000" d="M152.19 188.44h18.66v5.13h-18.66zM133.53 193.57h6.22v5.13h-6.22zM133.53 198.71h6.22v5.13h-6.22zM158.41 198.71h6.22v5.13h-6.22zM139.75 219.24h6.22v5.13h-6.22zM121.09 224.38h6.22v5.13h-6.22zM83.77 229.51h6.22v5.13h-6.22zM108.65 229.51h6.22v5.13h-6.22z"/>
<path fill="#eda600" d="M500.51 188.44h6.22v5.13h-6.22zM494.29 193.57h6.22v5.13h-6.22zM170.85 198.71h6.22v5.13h-6.22zM170.85 203.84h6.22v5.13h-6.22zM481.85 203.84h6.22v5.13h-6.22zM170.85 208.98h6.22v5.13h-6.22zM164.63 214.11h6.22v5.13h-6.22zM158.41 219.24h6.22v5.13h-6.22zM139.75 224.38h6.22v5.13h-6.22zM127.31 229.51h6.22v5.13h-6.22z"/>
<path fill="#f1b400" d="M506.73 188.44h6.22v5.13h-6.22zM121.09 193.57h6.22v5.13h-6.22zM139.75 193.57h31.10v5.13h-31.10zM121.09 198.71h6.22v5.13h-6.22zM139.75 198.71h18.66v5.13h-18.66zM158.41 203.84h6.22v5.13h-6.22zM152.19 214.11h6.22v5.13h-6.22zM127.31 219.24h6.22v5.13h-6.22zM114.87 224.38h6.22v5.13h-6.22zM89.99 229.51h18.66v5.13h-18.66z"/>
<path fill="#f2bb00" d="M512.95 188.44h11.55v5.13h-11.55zM114.87 193.57h6.22v5.13h-6.22zM500.51 193.57h6.22v5.13h-6.22zM114.87 198.71h6.22v5.13h-6.22zM494.29 198.71h6.22v5.13h-6.22zM139.75 203.84h18.66v5.13h-18.66zM139.75 208.98h6.22v5.13h-6.22zM121.09 219.24h6.22v5.13h-6.22zM102.43 224.38h6.22v5.13h-6.22z"/>
<path fill="#f4c300" d="M74.50 193.57h9.27v5.13h-9.27zM108.65 193.57h6.22v5.13h-6.22zM127.31 203.84h6.22v5.13h-6.22zM127.31 208.98h6.22v5.13h-6.22zM127.31 214.11h6.22v5.13h-6.22zM114.87 219.24h6.22v5.13h-6.22zM74.50 224.38h21.71v5.13h-21.71zM481.85 229.51h6.22v5.13h-6.22z"/>
<path fill="#f5c700" d="M83.77 193.57h6.22v5.13h-6.22zM121.09 214.11h6.22v5.13h-6.22zM108.65 219.24h6.22v5.13h-6.22z"/>
<path fill="#f5cb00" d="M89.99 193.57h18.66v5.13h-18.66zM506.73 193.57h6.22v5.13h-6.22zM121.09 203.84h6.22v5.13h-6.22zM121.09 208.98h6.22v5.13h-6.22zM114.87 214.11h6.22v5.13h-6.22zM74.50 219.24h9.27v5.13h-9.27zM102.43 219.24h6.22v5.13h-6.22zM488.07 229.51h36.43v5.13h-36.43z"/>
<path fill="#efad00" d="M127.31 193.57h6.22v5.13h-6.22zM127.31 198.71h6.22v5.13h-6.22zM164.63 198.71h6.22v5.13h-6.22zM488.07 198.71h6.22v5.13h-6.22zM164.63 203.84h6.22v5.13h-6.22zM164.63 208.98h6.22v5.13h-6.22zM158.41 214.11h6.22v5.13h-6.22zM152.19 219.24h6.22v5.13h-6.22zM127.31 224.38h6.22v5.13h-6.22zM74.50 229.51h9.27v5.13h-9.27zM114.87 229.51h6.22v5.13h-6.22z"/>
<path fill="#eea900" d="M170.85 193.57h6.22v5.13h-6.22zM133.53 224.38h6.22v5.13h-6.22zM121.09 229.51h6.22v5.13h-6.22z"/>
<path fill="#ec9f00" d="M177.07 193.57h6.22v5.13h-6.22zM177.07 198.71h6.22v5.13h-6.22zM177.07 203.84h6.22v5.13h-6.22zM177.07 208.98h6.22v5.13h-6.22zM475.63 208.98h6.22v5.13h-6.22zM170.85 214.11h6.22v5.13h-6.22zM164.63 219.24h6.22v5.13h-6.22zM139.75 229.51h6.22v5.13h-6.22zM74.50 234.65h34.15v5.13h-34.15z"/>
<path fill="#e78e00" d="M183.29 193.57h6.22v5.13h-6.22zM183.29 198.71h6.22v5.13h-6.22zM183.29 203.84h6.22v5.13h-6.22zM183.29 208.98h6.22v5.13h-6.22zM158.41 229.51h6.22v5.13h-6.22zM133.53 234.65h6.22v5.13h-6.22z"/>
<path fill="#f7d300" d="M512.95 193.57h11.55v5.13h-11.55zM74.50 198.71h9.27v5.13h-9.27zM114.87 203.84h6.22v5.13h-6.22zM114.87 208.98h6.22v5.13h-6.22zM74.50 214.11h9.27v5.13h-9.27zM108.65 214.11h6.22v5.13h-6.22zM89.99 219.24h6.22v5.13h-6.22z"/>
<path fill="#f9db00" d="M83.77 198.71h6.22v5.13h-6.22zM74.50 203.84h9.27v5.13h-9.27zM74.50 208.98h9.27v5.13h-9.27zM83.77 214.11h6.22v5.13h-6.22zM102.43 214.11h6.22v5.13h-6.22zM481.85 224.38h6.22v5.13h-6.22z"/>
<path fill="#fae400" d="M89.99 198.71h18.66v5.13h-18.66zM108.65 203.84h6.22v5.13h-6.22zM83.77 208.98h6.22v5.13h-6.22zM89.99 214.11h6.22v5.13h-6.22z"/>
<path fill="#f6cf00" d="M108.65 198.71h6.22v5.13h-6.22zM83.77 219.24h6.22v5.13h-6.22zM96.21 219.24h6.22v5.13h-6.22z"/>
<path fill="#ffff00" d="M500.51 198.71h23.99v5.13h-23.99zM488.07 203.84h36.43v5.13h-36.43zM481.85 208.98h42.65v5.13h-42.65zM481.85 214.11h42.65v5.13h-42.65zM488.07 219.24h36.43v5.13h-36.43z"/>
<path fill="#fbe800" d="M83.77 203.84h6.22v5.13h-6.22z"/>
<path fill="#fdf600" d="M89.99 203.84h18.66v5.13h-18.66zM481.85 219.24h6.22v5.13h-6.22z"/>
<path fill="#f3bf00" d="M133.53 203.84h6.22v5.13h-6.22zM133.53 208.98h6.22v5.13h-6.22zM96.21 224.38h6.22v5.13h-6.22z"/>
<path fill="#fced00" d="M89.99 208.98h18.66v5.13h-18.66zM488.07 224.38h36.43v5.13h-36.43z"/>
<path fill="#f9e000" d="M108.65 208.98h6.22v5.13h-6.22zM96.21 214.11h6.22v5.13h-6.22z"/>
<path fill="#f2ba00" d="M145.97 208.98h6.22v5.13h-6.22z"/>
<path fill="#f2b800" d="M152.19 208.98h6.22v5.13h-6.22zM139.75 214.11h6.22v5.13h-6.22z"/>
<path fill="#f0b200" d="M158.41 208.98h6.22v5.13h-6.22zM133.53 219.24h6.22v5.13h-6.22z"/>
<path fill="#f3be00" d="M133.53 214.11h6.22v5.13h-6.22z"/>
<path fill="#f1b600" d="M145.97 214.11h6.22v5.13h-6.22z"/>
<path fill="#efae00" d="M145.97 219.24h6.22v5.13h-6.22z"/>
<path fill="#f1b800" d="M108.65 224.38h6.22v5.13h-6.22z"/>
<path fill="#eca200" d="M133.53 229.51h6.22v5.13h-6.22z"/>
<path fill="#e27b00" d="M158.41 234.65h6.22v5.13h-6.22zM145.97 239.78h6.22v5.13h-6.22z"/>
<path fill="#e17a00" d="M108.65 244.92h6.22v5.13h-6.22z"/>
<path fill="#c73a00" d="M400.99 250.05h6.22v5.13h-6.22zM226.83 270.59h18.66v5.13h-18.66zM189.51 275.73h6.22v5.13h-6.22zM251.71 275.73h6.22v5.13h-6.22zM257.93 280.86h6.22v5.13h-6.22zM264.15 286h18.66v5.13h-18.66zM282.81 291.13h6.22v5.13h-6.22zM177.07 296.27h6.22v5.13h-6.22zM289.03 296.27h6.22v5.13h-6.22zM488.07 296.27h6.22v5.13h-6.22zM506.73 296.27h6.22v5.13h-6.22zM289.03 301.40h6.22v5.13h-6.22zM438.31 301.40h18.66v5.13h-18.66zM494.29 301.40h6.22v5.13h-6.22zM289.03 306.54h6.22v5.13h-6.22zM419.65 306.54h6.22v5.13h-6.22zM463.19 306.54h6.22v5.13h-6.22zM500.51 306.54h6.22v5.13h-6.22zM289.03 311.67h6.22v5.13h-6.22zM419.65 311.67h6.22v5.13h-6.22zM289.03 316.80h6.22v5.13h-6.22zM419.65 316.80h6.22v5.13h-6.22zM469.41 316.80h6.22v5.13h-6.22zM177.07 321.94h6.22v5.13h-6.22zM282.81 321.94h6.22v5.13h-6.22zM425.87 321.94h6.22v5.13h-6.22zM463.19 321.94h6.22v5.13h-6.22zM226.83 327.07h6.22v5.13h-6.22zM276.59 327.07h6.22v5.13h-6.22zM438.31 327.07h18.66v5.13h-18.66zM488.07 327.07h18.66v5.13h-18.66zM189.51 332.21h6.22v5.13h-6.22zM214.39 332.21h6.22v5.13h-6.22zM270.37 332.21h6.22v5.13h-6.22zM475.63 332.21h6.22v5.13h-6.22zM512.95 332.21h11.55v5.13h-11.55zM201.95 337.34h6.22v5.13h-6.22zM469.41 342.48h6.22v5.13h-6.22zM233.05 347.61h6.22v5.13h-6.22zM270.37 347.61h6.22v5.13h-6.22zM469.41 347.61h6.22v5.13h-6.22zM481.85 357.88h6.22v5.13h-6.22zM506.73 357.88h6.22v5.13h-6.22z"/>
<path fill="#dc6a00" d="M74.50 260.32h77.69v5.13h-77.69z"/>
<path fill="#c73900" d="M201.95 270.59h6.22v5.13h-6.22zM183.29 286h6.22v5.13h-6.22zM177.07 301.40h6.22v5.13h-6.22zM270.37 337.34h6.22v5.13h-6.22zM270.37 342.48h6.22v5.13h-6.22zM239.27 352.75h31.10v5.13h-31.10zM475.63 352.75h6.22v5.13h-6.22zM512.95 352.75h11.55v5.13h-11.55zM488.07 357.88h18.66v5.13h-18.66z"/>
<path fill="#c63800" d="M208.17 270.59h6.22v5.13h-6.22zM220.61 270.59h6.22v5.13h-6.22zM245.49 275.73h6.22v5.13h-6.22zM251.71 280.86h6.22v5.13h-6.22zM257.93 286h6.22v5.13h-6.22zM276.59 291.13h6.22v5.13h-6.22zM282.81 296.27h6.22v5.13h-6.22zM494.29 296.27h6.22v5.13h-6.22zM282.81 301.40h6.22v5.13h-6.22zM500.51 301.40h6.22v5.13h-6.22zM177.07 306.54h6.22v5.13h-6.22zM282.81 306.54h6.22v5.13h-6.22zM177.07 311.67h6.22v5.13h-6.22zM282.81 311.67h6.22v5.13h-6.22zM463.19 311.67h6.22v5.13h-6.22zM177.07 316.80h6.22v5.13h-6.22zM282.81 316.80h6.22v5.13h-6.22zM226.83 321.94h6.22v5.13h-6.22zM276.59 321.94h6.22v5.13h-6.22zM432.09 321.94h6.22v5.13h-6.22zM456.97 321.94h6.22v5.13h-6.22zM183.29 327.07h6.22v5.13h-6.22zM270.37 327.07h6.22v5.13h-6.22zM195.73 332.21h6.22v5.13h-6.22zM208.17 332.21h6.22v5.13h-6.22zM264.15 332.21h6.22v5.13h-6.22zM481.85 332.21h6.22v5.13h-6.22zM251.71 342.48h18.66v5.13h-18.66zM475.63 342.48h6.22v5.13h-6.22zM239.27 347.61h31.10v5.13h-31.10zM475.63 347.61h6.22v5.13h-6.22zM512.95 347.61h11.55v5.13h-11.55zM481.85 352.75h6.22v5.13h-6.22zM506.73 352.75h6.22v5.13h-6.22z"/>
<path fill="#c53600" d="M214.39 270.59h6.22v5.13h-6.22zM226.83 275.73h18.66v5.13h-18.66zM245.49 280.86h6.22v5.13h-6.22zM251.71 286h6.22v5.13h-6.22zM264.15 291.13h6.22v5.13h-6.22zM183.29 296.27h6.22v5.13h-6.22zM276.59 296.27h6.22v5.13h-6.22zM500.51 296.27h6.22v5.13h-6.22zM276.59 301.40h6.22v5.13h-6.22zM276.59 306.54h6.22v5.13h-6.22zM425.87 306.54h6.22v5.13h-6.22zM456.97 306.54h6.22v5.13h-6.22zM276.59 311.67h6.22v5.13h-6.22zM425.87 311.67h6.22v5.13h-6.22zM456.97 311.67h6.22v5.13h-6.22zM226.83 316.80h6.22v5.13h-6.22zM276.59 316.80h6.22v5.13h-6.22zM425.87 316.80h6.22v5.13h-6.22zM463.19 316.80h6.22v5.13h-6.22zM183.29 321.94h6.22v5.13h-6.22zM270.37 321.94h6.22v5.13h-6.22zM438.31 321.94h18.66v5.13h-18.66zM220.61 327.07h6.22v5.13h-6.22zM264.15 327.07h6.22v5.13h-6.22zM201.95 332.21h6.22v5.13h-6.22zM251.71 332.21h6.22v5.13h-6.22zM488.07 332.21h6.22v5.13h-6.22zM506.73 332.21h6.22v5.13h-6.22zM239.27 342.48h6.22v5.13h-6.22zM512.95 342.48h11.55v5.13h-11.55z"/>
<path fill="#c43500" d="M195.73 275.73h6.22v5.13h-6.22zM226.83 280.86h18.66v5.13h-18.66zM189.51 286h6.22v5.13h-6.22zM245.49 286h6.22v5.13h-6.22zM257.93 291.13h6.22v5.13h-6.22zM270.37 296.27h6.22v5.13h-6.22zM183.29 301.40h6.22v5.13h-6.22zM270.37 301.40h6.22v5.13h-6.22zM270.37 306.54h6.22v5.13h-6.22zM432.09 306.54h6.22v5.13h-6.22zM226.83 311.67h6.22v5.13h-6.22zM270.37 311.67h6.22v5.13h-6.22zM432.09 311.67h6.22v5.13h-6.22zM270.37 316.80h6.22v5.13h-6.22zM432.09 316.80h6.22v5.13h-6.22zM456.97 316.80h6.22v5.13h-6.22zM264.15 321.94h6.22v5.13h-6.22zM189.51 327.07h6.22v5.13h-6.22zM233.05 327.07h6.22v5.13h-6.22zM257.93 327.07h6.22v5.13h-6.22zM245.49 332.21h6.22v5.13h-6.22zM494.29 332.21h6.22v5.13h-6.22zM481.85 342.48h6.22v5.13h-6.22zM488.07 347.61h18.66v5.13h-18.66z"/>
<path fill="#c13000" d="M201.95 275.73h18.66v5.13h-18.66zM220.61 286h6.22v5.13h-6.22zM239.27 291.13h6.22v5.13h-6.22zM233.05 296.27h6.22v5.13h-6.22zM251.71 296.27h6.22v5.13h-6.22zM189.51 306.54h6.22v5.13h-6.22zM257.93 306.54h6.22v5.13h-6.22zM189.51 311.67h6.22v5.13h-6.22zM233.05 311.67h6.22v5.13h-6.22zM189.51 316.80h6.22v5.13h-6.22zM220.61 316.80h6.22v5.13h-6.22zM251.71 316.80h6.22v5.13h-6.22zM245.49 321.94h6.22v5.13h-6.22zM201.95 327.07h6.22v5.13h-6.22zM239.27 327.07h6.22v5.13h-6.22z"/>
<path fill="#c33300" d="M220.61 275.73h6.22v5.13h-6.22zM226.83 286h18.66v5.13h-18.66zM189.51 291.13h6.22v5.13h-6.22zM226.83 291.13h6.22v5.13h-6.22zM251.71 291.13h6.22v5.13h-6.22zM226.83 296.27h6.22v5.13h-6.22zM264.15 296.27h6.22v5.13h-6.22zM226.83 301.40h6.22v5.13h-6.22zM264.15 301.40h6.22v5.13h-6.22zM226.83 306.54h6.22v5.13h-6.22zM264.15 306.54h6.22v5.13h-6.22zM438.31 306.54h18.66v5.13h-18.66zM264.15 311.67h6.22v5.13h-6.22zM438.31 311.67h18.66v5.13h-18.66zM264.15 316.80h6.22v5.13h-6.22zM438.31 316.80h18.66v5.13h-18.66zM189.51 321.94h6.22v5.13h-6.22zM220.61 321.94h6.22v5.13h-6.22zM233.05 321.94h6.22v5.13h-6.22zM257.93 321.94h6.22v5.13h-6.22zM195.73 327.07h6.22v5.13h-6.22zM214.39 327.07h6.22v5.13h-6.22zM251.71 327.07h6.22v5.13h-6.22zM239.27 332.21h6.22v5.13h-6.22zM500.51 332.21h6.22v5.13h-6.22zM488.07 342.48h18.66v5.13h-18.66z"/>
<path fill="#c63700" d="M189.51 280.86h6.22v5.13h-6.22zM183.29 291.13h6.22v5.13h-6.22zM270.37 291.13h6.22v5.13h-6.22zM233.05 332.21h6.22v5.13h-6.22zM257.93 332.21h6.22v5.13h-6.22zM233.05 337.34h6.22v5.13h-6.22zM251.71 337.34h18.66v5.13h-18.66zM475.63 337.34h6.22v5.13h-6.22zM488.07 352.75h18.66v5.13h-18.66z"/>
<path fill="#c23200" d="M195.73 280.86h6.22v5.13h-6.22zM220.61 280.86h6.22v5.13h-6.22zM233.05 291.13h6.22v5.13h-6.22zM245.49 291.13h6.22v5.13h-6.22zM189.51 296.27h6.22v5.13h-6.22zM257.93 296.27h6.22v5.13h-6.22zM233.05 316.80h6.22v5.13h-6.22zM257.93 316.80h6.22v5.13h-6.22zM251.71 321.94h6.22v5.13h-6.22zM208.17 327.07h6.22v5.13h-6.22zM245.49 327.07h6.22v5.13h-6.22zM506.73 337.34h6.22v5.13h-6.22z"/>
<path fill="#bf2d00" d="M201.95 280.86h6.22v5.13h-6.22zM214.39 286h6.22v5.13h-6.22zM195.73 296.27h6.22v5.13h-6.22zM239.27 296.27h6.22v5.13h-6.22zM245.49 301.40h6.22v5.13h-6.22zM251.71 306.54h6.22v5.13h-6.22zM245.49 311.67h6.22v5.13h-6.22zM239.27 316.80h6.22v5.13h-6.22zM208.17 321.94h6.22v5.13h-6.22z"/>
<path fill="#c02e00" d="M208.17 280.86h6.22v5.13h-6.22zM195.73 291.13h6.22v5.13h-6.22z"/>
<path fill="#c02f00" d="M214.39 280.86h6.22v5.13h-6.22zM245.49 296.27h6.22v5.13h-6.22zM220.61 301.40h6.22v5.13h-6.22zM251.71 301.40h6.22v5.13h-6.22zM220.61 306.54h6.22v5.13h-6.22zM233.05 306.54h6.22v5.13h-6.22zM251.71 311.67h6.22v5.13h-6.22zM245.49 316.80h6.22v5.13h-6.22zM214.39 321.94h6.22v5.13h-6.22zM239.27 321.94h6.22v5.13h-6.22z"/>
<path fill="#c12f00" d="M195.73 286h6.22v5.13h-6.22zM220.61 291.13h6.22v5.13h-6.22zM220.61 296.27h6.22v5.13h-6.22zM233.05 301.40h6.22v5.13h-6.22zM220.61 311.67h6.22v5.13h-6.22zM195.73 321.94h6.22v5.13h-6.22z"/>
<path fill="#bd2a00" d="M201.95 286h6.22v5.13h-6.22zM208.17 291.13h6.22v5.13h-6.22zM208.17 296.27h6.22v5.13h-6.22zM214.39 306.54h6.22v5.13h-6.22zM239.27 306.54h6.22v5.13h-6.22zM214.39 311.67h6.22v5.13h-6.22zM214.39 316.80h6.22v5.13h-6.22z"/>
<path fill="#be2c00" d="M208.17 286h6.22v5.13h-6.22zM214.39 291.13h6.22v5.13h-6.22zM214.39 296.27h6.22v5.13h-6.22zM195.73 301.40h6.22v5.13h-6.22zM239.27 301.40h6.22v5.13h-6.22zM195.73 306.54h6.22v5.13h-6.22zM245.49 306.54h6.22v5.13h-6.22zM195.73 311.67h6.22v5.13h-6.22zM239.27 311.67h6.22v5.13h-6.22zM195.73 316.80h6.22v5.13h-6.22zM201.95 321.94h6.22v5.13h-6.22z"/>
<path fill="#bc2900" d="M201.95 291.13h6.22v5.13h-6.22zM208.17 301.40h6.22v5.13h-6.22zM208.17 306.54h6.22v5.13h-6.22zM208.17 311.67h6.22v5.13h-6.22zM208.17 316.80h6.22v5.13h-6.22z"/>
<path fill="#bc2800" d="M201.95 296.27h6.22v5.13h-6.22zM201.95 316.80h6.22v5.13h-6.22z"/>
<path fill="#c23100" d="M189.51 301.40h6.22v5.13h-6.22zM257.93 301.40h6.22v5.13h-6.22zM257.93 311.67h6.22v5.13h-6.22z"/>
<path fill="#bb2800" d="M201.95 301.40h6.22v5.13h-6.22zM201.95 311.67h6.22v5.13h-6.22z"/>
<path fill="#be2b00" d="M214.39 301.40h6.22v5.13h-6.22z"/>
<path fill="#c43400" d="M183.29 306.54h6.22v5.13h-6.22zM183.29 311.67h6.22v5.13h-6.22zM183.29 316.80h6.22v5.13h-6.22zM239.27 337.34h6.22v5.13h-6.22zM481.85 337.34h6.22v5.13h-6.22zM512.95 337.34h11.55v5.13h-11.55zM506.73 342.48h6.22v5.13h-6.22z"/>
<path fill="#bb2700" d="M201.95 306.54h6.22v5.13h-6.22z"/>
<path fill="#c53500" d="M245.49 337.34h6.22v5.13h-6.22z"/>
<path fill="#c13100" d="M488.07 337.34h18.66v5.13h-18.66z"/>
<path fill="#c63900" d="M233.05 342.48h6.22v5.13h-6.22z"/>
<path fill="#c53700" d="M245.49 342.48h6.22v5.13h-6.22zM481.85 347.61h6.22v5.13h-6.22zM506.73 347.61h6.22v5.13h-6.22z"/>
</g>
<clipPath id="pc"><rect x="74.5" y="57.5" width="449.5" height="361.5"/></clipPath>
<g fill="none" stroke="#0080ff" stroke-width="1" shape-rendering="crispEdges" clip-path="url(#pc)">
<path d="M95.0 124.7L99.3 122.2L101.8 119.1L103.1 116.7L100.6 116.4L96.8 114.2L93.7 113.0L92.7 110.9L93.1 108.6L94.3 107.4L98.1 106.8L98.1 104.7L95.6 104.5L92.6 104.7L89.4 102.5L91.9 101.2L94.7 101.5L97.2 100.4L94.3 98.4L91.5 96.9L95.6 94.5L99.3 92.4L103.3 90.8L109.3 91.8L114.2 92.8L120.5 93.2L123.0 94.3L127.9 95.5L131.7 94.5L136.6 93.4L139.1 93.0L142.9 94.5L146.6 93.9L151.6 95.5L156.5 96.5L161.5 97.6L164.0 96.5L167.7 96.5L174.0 98.0L176.4 96.5L178.9 98.6L180.2 97.6L181.4 94.5L183.9 94.5L186.4 96.5L188.9 98.6L190.8 100.6L193.9 99.6L196.4 96.5L197.0 94.5L195.1 93.9L192.0 94.5L191.4 96.5L192.6 99.6L190.8 100.6L188.9 104.7L185.8 107.2L183.9 108.2L181.4 111.9L181.2 116.4L183.3 120.1L188.3 122.2L192.6 123.8L196.0 124.0L196.4 128.4L198.2 131.9L200.1 131.4L200.3 126.3L202.6 123.2L203.2 119.1L201.9 115.0L201.3 112.3L201.9 108.8L205.1 109.3L208.8 110.9L211.3 111.9L211.9 116.0L213.8 117.1L217.5 115.0L218.1 113.4L221.2 119.1L221.9 122.2L223.7 124.3L227.5 126.3L228.7 129.4L226.8 131.4L223.7 134.1L218.7 134.1L215.6 134.5L213.1 136.6L211.3 138.6L210.0 140.9L212.5 138.6L216.3 136.4L218.1 136.8L217.5 139.7L217.7 141.1L221.2 143.1L222.5 144.2L223.7 142.7L221.9 145.2L219.4 145.6L216.6 147.9L218.1 144.2L215.6 144.8L213.8 146.0L211.3 147.5L210.5 149.7L211.3 151.4L210.7 152.0L209.4 152.2L206.9 153.4L206.3 154.0L206.3 156.1L205.1 157.3L204.7 159.2L203.8 161.2L204.4 164.7L202.6 166.4L200.7 167.8L199.5 169.4L197.6 171.5L197.2 173.5L197.0 175.6L198.2 178.7L198.8 182.2L198.3 185.5L197.6 185.7L196.6 183.6L195.4 180.1L195.4 177.7L193.9 175.6L192.0 176.2L190.1 174.8L188.3 175.0L187.0 175.2L187.3 177.7L185.8 177.2L183.9 176.4L181.4 176.2L180.2 177.2L177.7 180.1L177.2 183.8L176.8 186.9L177.1 192.0L177.4 195.1L178.9 197.8L180.2 199.2L180.9 199.8L183.3 199.0L185.2 198.6L185.8 196.1L186.0 194.1L188.9 193.1L190.1 193.1L189.5 196.1L189.1 199.2L188.3 204.4L190.1 204.8L192.6 204.4L194.7 206.0L194.5 210.5L194.2 214.6L195.7 217.5L198.8 218.3L200.1 217.7L201.9 219.6L202.8 219.6L203.4 219.6L204.3 217.7L205.1 215.0L206.9 214.0L208.8 213.0L209.4 215.2L209.4 217.7L210.0 215.7L210.9 212.6L211.9 213.6L213.8 215.7L216.3 215.4L218.1 216.3L220.6 215.7L221.9 217.1L223.7 220.2L225.6 223.2L227.5 224.9L231.2 225.3L233.7 226.9L234.9 229.0L236.2 235.2L236.2 238.2L238.0 239.7L241.1 239.3L243.0 242.4L244.2 242.1L247.4 243.2L249.8 243.8L252.3 246.9L254.6 248.5L254.8 252.6L254.2 256.7L252.3 259.8L250.5 263.9L249.8 268.0L249.6 273.2L248.6 277.3L247.4 282.4L246.1 284.3L243.0 284.5L240.5 286.5L238.0 289.6L238.0 291.6L237.4 295.8L235.5 299.9L234.3 302.9L231.8 307.0L230.2 308.9L227.5 308.1L225.7 308.3L227.2 310.1L227.7 312.2L226.8 315.3L225.0 316.3L221.2 317.3L220.6 320.4L217.5 321.4L218.7 324.5L217.5 325.5L216.9 329.6L214.4 331.7L216.3 334.8L214.4 337.9L212.5 339.9L212.5 343.0L213.1 344.6L211.9 345.5L210.0 347.1L208.2 347.1L206.3 345.0L204.7 339.9L204.4 335.8L205.7 331.7L206.3 325.5L206.7 321.4L206.9 317.3L207.5 313.2L208.8 309.1L209.4 305.0L209.3 299.9L209.7 294.7L210.5 289.6L210.9 284.5L211.0 278.3L210.9 275.2L210.0 274.2L208.2 271.7L205.1 269.1L203.2 264.9L201.9 259.8L200.1 254.7L198.8 251.6L197.3 248.5L197.6 245.4L198.8 242.4L198.2 239.3L198.8 236.2L200.1 234.8L200.7 232.1L201.9 229.0L202.2 225.9L201.9 223.9L201.3 222.4L200.7 220.0L199.5 218.9L198.2 220.6L198.8 222.2L197.6 221.4L195.7 220.6L194.2 219.6L192.9 217.1L191.7 216.7L191.7 214.6L190.8 212.4L189.5 210.7L188.9 210.1L187.6 209.7L185.2 208.7L183.9 207.4L182.7 205.8L181.4 204.4L180.2 203.9L178.9 205.0L176.4 204.1L174.0 202.3L171.5 200.5L169.6 199.6L168.4 197.8L167.4 195.1L167.1 193.1L165.9 189.4L164.0 185.9L162.8 184.8L162.1 182.8L160.3 179.7L158.4 175.6L157.2 172.9L155.7 172.1L155.9 174.6L157.8 178.7L158.8 181.4L159.9 184.2L160.6 186.9L161.1 187.5L162.1 188.9L161.6 190.2L160.0 187.9L159.0 186.3L157.8 183.8L155.3 180.1L156.3 178.7L154.3 175.0L153.3 172.5L152.6 170.1L150.9 167.4L149.7 166.6L148.3 166.2L146.7 162.7L146.6 161.4L146.0 159.6L144.5 157.1L143.6 154.4L143.9 153.0L143.5 149.9L144.1 146.8L144.1 142.7L143.2 139.7L143.5 137.6L145.3 137.6L144.7 135.5L142.9 133.9L140.4 132.9L139.1 131.4L137.3 128.4L136.6 125.3L134.2 124.9L132.9 123.2L131.7 121.2L130.4 119.1L128.6 117.7L126.7 116.0L124.2 114.4L120.5 113.8L117.4 113.0L114.9 112.3L113.0 114.0L111.8 111.5L109.9 113.0L109.3 115.4L106.8 117.1L105.5 119.1L103.1 121.2L99.3 123.2L95.0 124.7Z"/>
<path d="M292.1 163.1L290.6 161.0L288.8 156.9L289.7 152.2L292.1 148.5L296.4 145.6L298.2 144.2L295.1 140.1L292.6 138.8L292.9 137.4L296.4 137.2L296.7 135.1L298.6 135.5L300.4 134.1L301.5 132.3L302.8 131.6L303.6 130.4L304.2 128.4L306.9 127.3L308.9 127.1L309.2 124.3L308.6 120.6L311.4 118.7L311.2 121.2L311.9 121.6L310.8 124.3L312.0 126.3L313.9 125.5L315.8 126.3L318.9 125.1L321.4 124.9L323.0 125.5L324.7 123.8L324.5 121.2L325.2 119.3L326.5 118.7L328.6 119.7L327.6 117.1L327.5 115.4L330.7 114.8L333.2 115.0L335.6 114.0L333.2 113.0L329.5 113.4L326.8 114.2L325.0 112.3L325.0 110.1L325.1 107.6L327.6 105.4L329.8 103.5L328.5 102.1L326.0 102.5L324.7 104.7L323.2 106.4L321.4 108.2L320.0 110.5L319.9 112.7L321.6 113.6L321.4 115.2L319.1 118.7L318.8 121.0L316.3 122.2L314.4 123.2L314.0 121.8L313.2 119.1L312.3 116.2L311.4 115.0L310.1 116.2L308.2 117.9L306.6 117.9L305.2 116.2L304.7 113.4L304.6 110.5L305.7 108.4L308.3 107.0L311.3 104.9L313.5 102.1L314.8 99.2L317.0 96.5L318.9 95.3L321.7 93.9L324.7 93.0L327.6 92.2L330.5 91.2L333.2 91.4L335.7 92.8L336.9 93.9L339.4 94.7L343.8 95.3L347.5 97.1L349.4 99.2L349.6 100.4L348.1 101.2L346.3 101.5L342.5 100.8L340.0 100.2L339.2 101.2L341.3 103.7L345.0 105.8L348.1 104.5L350.6 100.6L353.3 100.6L353.1 96.5L356.2 97.1L364.3 96.1L370.5 95.7L373.6 93.6L378.6 94.9L383.6 96.9L381.5 92.4L383.6 87.7L386.7 86.7L388.7 88.9L388.3 91.8L389.8 96.5L392.3 98.6L391.7 95.5L390.4 91.4L393.5 88.7L397.3 88.7L398.5 86.3L406.3 85.2L406.7 83.2L410.3 81.9L415.3 80.9L420.3 80.5L423.4 79.9L427.7 77.6L430.2 78.2L432.7 79.7L436.4 79.7L439.6 80.7L440.1 81.9L438.3 84.6L436.4 85.8L439.6 86.3L443.9 86.0L446.4 87.1L452.0 87.1L455.7 88.5L458.2 88.7L459.5 89.7L461.3 91.6L463.2 89.5L468.8 90.4L471.9 88.5L473.8 87.9L480.0 88.7L485.0 90.2L487.4 91.6L493.7 91.4L497.4 92.2L498.6 94.3L503.6 94.1L507.4 93.6L510.5 93.2L517.3 95.1L527.3 99.0L527.3 104.1L520.4 104.7L518.5 104.3L517.3 103.9L520.4 106.8L521.4 108.8L518.5 108.8L514.8 110.3L510.5 114.0L504.9 113.4L502.4 114.2L501.1 116.7L501.8 119.1L499.9 122.0L500.5 124.7L497.4 128.4L495.5 129.4L493.3 132.5L492.4 128.8L491.9 124.3L493.4 118.5L495.5 118.1L498.0 115.0L499.3 113.0L501.8 109.3L497.4 110.9L493.7 110.5L489.9 115.0L486.8 115.4L483.1 115.4L478.7 115.2L475.0 116.0L473.1 118.1L470.7 121.2L468.8 123.8L466.3 125.1L469.4 126.7L473.1 127.7L474.0 129.8L473.1 133.5L472.9 137.6L470.7 140.7L466.9 147.3L463.8 149.3L461.9 149.5L461.0 150.3L459.7 153.0L459.3 158.8L457.5 164.3L456.2 166.4L455.6 160.6L454.4 157.5L450.5 155.3L447.5 156.9L445.5 159.4L448.8 161.2L450.5 162.5L449.4 170.1L448.9 171.5L450.0 173.8L449.5 176.0L450.0 177.7L448.5 180.7L447.1 183.8L445.8 186.9L443.3 190.0L440.2 191.4L437.7 192.6L435.8 193.7L435.4 195.5L434.8 193.1L432.7 192.9L432.0 194.7L431.3 211.3L430.6 216.7L426.6 216.7L421.9 210.7L422.5 220.8L424.0 228.0L428.4 234.1L426.5 232.1L422.5 226.9L419.2 220.8L418.5 205.8L415.3 201.3L410.4 194.7L412.6 191.2L410.9 191.8L409.1 192.4L406.6 193.1L406.5 194.9L404.1 197.6L402.0 201.1L400.7 203.1L399.4 204.8L398.1 206.2L398.3 210.3L397.8 216.1L397.0 216.1L395.6 218.9L394.8 220.6L393.5 218.9L392.7 214.0L391.4 210.9L390.5 206.8L389.7 203.3L388.9 198.2L388.9 194.1L388.7 191.6L386.1 194.1L384.2 191.4L385.4 190.4L383.9 188.9L382.3 188.1L381.1 185.0L378.6 185.5L375.0 185.5L371.4 184.6L369.6 184.2L369.0 181.6L366.2 182.6L363.7 180.7L362.2 179.7L360.9 176.2L359.1 175.2L358.1 175.8L358.6 178.7L359.9 181.8L361.2 184.0L361.6 186.3L362.6 184.2L362.4 187.3L364.9 187.7L367.4 184.8L368.3 183.4L368.5 186.1L369.5 188.1L371.5 188.9L372.8 191.4L371.1 195.1L370.3 198.2L368.8 199.6L367.2 201.7L363.3 205.2L359.9 207.4L358.8 208.5L355.0 210.5L352.5 211.1L351.6 206.8L351.5 203.3L349.6 198.2L347.0 193.1L346.3 187.9L344.6 184.8L342.5 179.7L341.8 176.6L341.0 179.7L340.2 178.7L338.9 175.8L339.0 178.7L340.4 181.8L342.5 187.9L344.3 192.0L344.8 198.2L346.3 200.2L347.5 205.4L350.0 208.9L352.2 212.4L353.1 215.7L354.3 215.7L358.1 214.2L362.1 213.0L361.8 215.9L361.2 218.7L359.3 223.9L358.1 228.0L355.6 233.1L353.1 235.2L350.6 239.3L348.7 242.4L347.5 246.5L346.6 250.6L347.5 253.6L348.5 258.8L348.7 262.9L348.1 263.9L345.6 272.1L342.6 281.2L340.7 287.5L339.2 292.7L338.8 295.8L336.9 298.8L335.7 301.5L333.2 305.0L330.1 306.6L327.0 307.0L323.2 308.7L321.4 307.5L321.0 305.0L320.1 299.9L318.9 295.8L317.3 291.6L316.4 284.5L315.2 280.3L313.0 272.1L313.9 264.9L315.5 259.8L314.5 255.7L313.5 249.5L313.3 247.5L312.0 244.4L310.2 240.3L309.9 236.2L310.6 232.1L310.3 229.4L308.9 228.0L307.1 228.2L305.8 228.4L304.0 224.3L301.5 224.3L299.6 225.1L296.5 226.9L294.6 226.7L292.1 226.7L289.0 228.2L287.2 226.9L284.7 223.2L282.2 220.8L281.8 217.7L279.9 215.0L279.1 213.0L277.5 211.5L276.6 207.0L277.8 203.9L278.3 200.2L278.1 197.2L277.2 194.1L277.8 191.0L279.7 186.9L280.3 183.8L282.2 180.3L284.7 178.3L286.2 176.0L286.2 172.5L287.8 169.0L289.9 167.4L291.0 163.7L291.8 163.7L293.4 164.9L295.9 165.1L298.4 163.5L300.8 162.0L304.6 161.6L308.3 161.4L310.8 160.6L312.0 161.2L311.4 163.3L312.2 164.9L311.0 167.0L312.3 168.8L314.5 169.6L317.3 170.9L318.3 172.9L320.8 174.4L323.0 174.0L323.4 171.5L325.1 169.6L327.1 170.3L329.5 172.1L332.6 173.1L335.1 173.8L336.9 172.3L338.5 172.9L340.9 172.9L341.8 170.5L342.5 167.4L343.0 164.3L343.4 162.0L342.3 162.0L340.7 162.9L338.8 163.1L336.3 162.2L334.7 162.0L333.2 161.6L332.2 160.2L331.3 158.1L331.7 156.1L331.0 154.9L332.6 154.0L334.4 152.8L336.9 152.6L340.0 151.0L342.1 151.0L345.6 153.2L348.1 153.0L350.1 152.0L350.1 149.9L348.1 148.1L345.6 145.6L344.8 144.4L342.5 144.6L340.0 145.8L338.8 144.0L340.2 142.7L337.5 141.5L335.9 143.1L335.2 144.8L334.1 146.2L333.1 148.9L333.3 151.8L334.4 152.8L334.4 155.9L329.7 156.5L329.7 158.3L327.8 162.0L325.0 160.6L323.1 157.7L319.4 157.3L315.7 154.0L311.8 151.2L308.6 149.3L305.2 150.3L302.5 153.0L300.1 158.8L297.7 162.0Z"/>
<path d="M69.5 95.7L78.2 96.9L81.9 99.0L85.0 99.8L87.3 101.5L83.8 102.7L83.1 104.9L80.7 104.1L76.9 103.1L69.5 103.7"/>
<path d="M356.8 144.8L359.9 141.7L362.4 140.7L364.3 143.8L362.2 145.8L361.8 148.9L363.9 151.0L364.3 155.1L364.9 157.1L365.5 160.6L362.4 161.6L360.6 160.4L359.3 158.6L359.9 154.6L358.1 151.0L357.4 148.9Z"/>
<path d="M291.3 134.3L294.0 133.7L297.1 132.9L300.1 132.1L300.5 129.2L298.7 127.3L298.1 125.9L296.5 123.6L295.9 122.2L295.1 121.6L296.1 119.1L294.0 118.7L294.6 116.9L292.1 116.9L291.5 119.1L290.9 121.2L291.6 123.0L292.3 124.7L294.3 124.5L294.4 126.3L294.6 127.7L292.8 127.5L293.1 129.6L291.9 130.8L294.4 131.6L292.8 132.1Z"/>
<path d="M290.9 130.2L290.6 126.5L291.0 123.8L289.3 123.6L287.8 124.7L285.9 125.9L286.4 127.9L285.5 130.6L286.5 131.4L288.4 130.8Z"/>
<path d="M271.0 105.8L268.5 102.7L271.0 100.8L274.7 101.5L278.5 100.6L280.9 102.7L280.3 104.9L276.0 107.0Z"/>
<path d="M221.1 70.0L242.3 68.6L252.0 66.3L268.4 67.2L268.4 71.7L281.7 71.3L274.7 76.6L276.3 79.9L271.5 84.6L268.4 87.9L271.5 91.2L266.8 92.0L265.1 95.3L258.7 96.7L252.1 101.7L248.8 104.1L247.2 109.1L245.5 114.6L239.0 113.2L235.8 107.4L232.6 99.4L234.9 92.8L230.9 91.2L230.1 86.3L226.0 82.1L219.5 81.3L213.0 79.7L212.2 77.2L216.3 76.4Z"/>
<path d="M218.1 106.8L213.8 108.8L208.8 106.8L201.9 105.2L206.3 102.7L207.5 98.6L202.6 97.6L200.1 93.4L193.9 93.4L188.9 86.3L198.8 85.8L205.1 89.3L211.3 92.4L215.0 95.5L221.2 100.0L218.7 102.7L217.5 105.8Z"/>
<path d="M205.1 75.0L198.8 80.1L188.9 79.1L186.4 72.9L192.6 68.8L211.3 66.7L221.2 68.8L211.3 72.9Z"/>
<path d="M198.8 106.8L191.4 105.8L190.1 103.7L194.5 102.7Z"/>
<path d="M315.2 75.0L319.5 73.9L328.2 73.7L333.8 73.9L328.2 75.4L325.7 78.0L320.8 80.7L318.3 78.0L315.2 76.0Z"/>
<path d="M363.0 90.4L368.0 92.2L370.5 91.4L368.0 87.3L373.0 83.2L383.0 79.5L376.7 79.1L370.5 82.1L366.8 85.2Z"/>
<path d="M416.5 75.0L422.8 76.4L429.0 75.0L422.8 70.9L415.3 72.9Z"/>
<path d="M468.8 83.2L475.0 85.6L485.0 83.2L478.7 81.1Z"/>
<path d="M475.0 142.7L476.9 141.1L476.3 136.6L478.1 136.6L476.3 132.5L476.5 128.4L475.9 125.7L475.3 127.3L474.6 131.4L475.0 138.6Z"/>
<path d="M472.5 152.0L474.4 149.7L476.6 151.0L479.4 148.3L477.5 146.4L474.8 143.8L474.3 148.3L472.5 150.1Z"/>
<path d="M474.0 152.2L475.0 156.1L473.8 159.2L473.5 163.3L473.1 165.3L472.3 165.5L471.0 166.2L468.8 166.2L467.5 168.4L466.3 166.4L463.8 166.8L461.3 167.4L461.3 165.9L463.8 164.3L466.9 164.1L468.5 160.6L470.7 159.6L472.5 156.1L472.5 153.0Z"/>
<path d="M460.1 167.8L462.3 168.4L461.9 172.5L460.7 173.1L460.1 170.5Z"/>
<path d="M463.2 168.4L465.4 167.8L465.8 167.0L463.8 167.0Z"/>
<path d="M449.5 185.5L450.1 186.9L448.6 192.0L447.8 190.0Z"/>
<path d="M433.6 197.6L435.8 196.1L436.4 197.0L434.6 199.8Z"/>
<path d="M447.4 200.7L450.1 200.7L450.5 209.5L448.0 209.5Z"/>
<path d="M450.1 224.1L453.5 218.5L453.5 225.3Z"/>
<path d="M445.4 216.7L445.9 215.4Z"/>
<path d="M433.3 240.3L443.4 224.1L444.8 230.8L440.1 245.6Z"/>
<path d="M415.8 226.1L429.4 243.8L423.9 244.4Z"/>
<path d="M429.4 250.8L440.2 253.0L440.2 254.3L429.6 252.0Z"/>
<path d="M447.6 235.2L448.3 236.2Z"/>
<path d="M513.2 307.9L515.4 311.2L517.3 314.2L520.4 314.6L519.7 317.7L518.4 318.6L516.3 322.7L515.6 321.8L516.1 319.0L514.6 317.7L515.6 313.8L513.6 309.5Z"/>
<path d="M513.2 320.4L515.1 322.9L513.6 327.2L511.3 328.6L510.6 331.5L507.7 332.9L505.5 331.3L507.4 327.6L510.5 325.3L512.3 321.4Z"/>
<path d="M359.1 264.5L359.8 277.9L353.6 289.8L352.8 278.3Z"/>
<path d="M397.8 217.1L400.2 221.8L399.4 224.5L398.0 224.9L397.6 220.4Z"/>
<path d="M192.7 192.2L196.4 189.8L198.8 190.2L202.6 193.5L206.1 195.7L201.8 196.3L200.7 192.9L197.0 191.6Z"/>
<path d="M205.8 196.5L207.9 196.3L211.3 196.8L213.3 199.0L210.0 199.8L205.8 199.4Z"/>
<path d="M222.1 342.4L226.2 342.6L225.0 344.4Z"/>
<path d="M317.4 147.5L321.1 152.2L323.0 155.9L320.3 156.9L317.8 151.2Z"/>
<path d="M309.9 154.0L310.2 156.5"/>
<path d="M316.0 160.2L318.4 160.2"/>
<path d="M77.1 399.4L96.5 399.4L98.4 398.5L102.8 398.5"/>
<path d="M97.1 400.6L99.6 402.5"/>
<path d="M77.1 412.5L86.5 412.8L87.1 413.5L105.9 413.5L106.5 414.4L115.2 414.4L111.5 408.8L108.4 403.1L110.9 398.1L114.0 396.5L117.1 395.6L120.2 394.8L125.2 393.8L129.0 393.1L132.8 391.9L137.8 391.0L142.1 389.8L149.0 389.4L150.0 390.6L156.2 390.6L160.0 392.8L165.0 392.2L170.0 391.9L174.4 390.6L174.4 389.0L178.8 388.8L187.5 389.5L196.9 389.5L201.2 387.8L205.0 387.8L208.8 389.0L215.6 385.0L215.6 377.5L220.0 371.9L224.8 369.4L226.5 371.9L224.4 377.5L222.8 381.9L223.8 392.5L227.5 394.0L230.0 395.0L233.8 397.2L240.0 397.8L245.0 398.1L256.9 398.1L258.8 396.9L262.5 395.6L266.2 393.8L272.5 390.6L277.5 388.5L282.5 386.9L288.8 385.0L293.8 383.1L297.5 380.6L300.0 380.4L303.8 381.5L305.0 382.8L323.8 382.8L331.9 382.5L333.1 383.5L336.2 381.9L340.0 380.6L345.0 381.5L346.9 382.5L350.0 380.2L352.5 378.5L356.2 376.5L361.2 376.2L365.0 374.4L370.0 375.2L375.0 377.2L380.6 377.5L385.0 378.8L385.6 383.1L390.6 381.9L395.6 381.0L400.0 378.8L404.4 375.6L406.2 375.6L420.6 375.2L421.9 374.4L439.4 374.4L443.1 375.6L448.1 376.2L450.0 375.2L454.4 374.5L468.8 374.5L475.0 376.0L481.2 378.1L487.5 379.8L493.8 381.2L500.0 381.9L505.0 383.8L511.2 386.2L507.5 390.6L505.0 393.1L503.8 397.5L501.9 400.2L505.0 405.0L506.9 408.1L512.5 409.4L517.5 410.2"/>
<path d="M503.8 397.5L508.8 397.2L515.0 398.1L522.5 399.4"/>
<path d="M217.5 376.9L221.9 373.8L225.4 371.2"/>
<path d="M206.9 385.6L211.2 382.5L213.1 380.6L212.5 384.4L210.0 386.9L206.9 385.6"/>
<path d="M223.8 392.5L221.2 393.5L216.2 394.0L207.5 395.6L201.2 396.2L196.9 397.2L200.0 399.4L205.0 402.5L211.2 405.0L218.8 406.5L225.0 407.2L230.0 407.2L237.5 407.5L248.8 406.5L255.0 404.4L258.1 403.1L260.6 403.5L258.1 400.0L257.8 397.5"/>
<path d="M220.0 403.5L226.2 403.1L230.0 401.2"/>
<path d="M225.0 403.1L228.8 401.9L233.8 400.2L241.2 400.0L244.4 400.6L244.4 403.8L236.2 403.8L230.0 403.1L225.0 403.1"/>
<path d="M263.8 396.2L270.0 393.1L275.0 391.0L281.2 388.5L288.8 386.2L295.0 386.5L300.0 385.0L303.8 384.4L324.4 384.4L331.9 384.4"/>
<path d="M176.1 128.9L177.5 127.5L178.4 128.9L178.9 135.0L176.6 135.5L175.6 132.2L176.1 128.9"/>
<path d="M180.3 138.3L184.5 134.1"/>
<path d="M185.0 139.7L186.4 138.3L189.2 137.3L192.5 140.1L194.4 142.5L196.7 144.8L197.6 148.1L198.1 150.0"/>
<path d="M190.2 148.1L192.0 145.3L193.9 144.8L195.3 147.2L196.2 150.0"/>
<path d="M198.1 150.0L202.8 147.6L207.5 144.8L209.5 142.5"/>
<path d="M391.0 146.4L398.5 143.2"/>
<path d="M145.3 101.3L153.3 101.3L150.4 104.2L145.7 104.2L145.3 101.3"/>
<path d="M149.3 106.4L154.1 109.3L163.5 109.3L160.6 111.9L151.1 112.2"/>
<path d="M159.2 118.1L164.3 116.2L169.4 117.0L164.3 118.1L159.2 118.1"/>
<path d="M340.7 238.3L341.2 241.0L341.5 245.3"/>
<path d="M462.5 241.7L464.2 242.9L475.8 243.3L477.5 246.7L482.5 253.3L486.2 259.2L482.5 257.5L477.5 255.8L472.5 253.3L467.5 249.2L463.3 244.2L462.5 241.7"/>
<path d="M373.8 144.5L376.0 142.8L377.0 144.5L375.0 146.8L374.5 149.8L373.5 148.0L373.8 144.5"/>
<path d="M394.0 152.3L395.0 152.3"/>
<path d="M442.0 281.7L444.8 280.0L450.7 276.7L454.8 269.2L459.0 269.2L464.0 261.3L469.0 265.0L471.5 271.7L474.0 265.0L476.5 260.3L479.8 270.0L484.0 278.3L487.3 286.7L489.0 293.3L488.2 303.3L486.5 310.0L483.2 313.3L479.8 316.7L474.0 316.7L471.5 312.5L467.3 307.5L463.2 303.3L461.5 302.5L455.7 305.0L449.0 306.7L444.0 305.8L442.3 301.7L441.5 293.3L442.0 281.7"/>
<path d="M479.0 322.5L481.5 325.0L479.8 325.8"/>
<path d="M148.1 81.7L150.2 80.8L152.8 80.1L155.6 79.5"/>
<path d="M159.3 78.6L162.1 77.9L163.4 77.3"/>
<path d="M155.2 82.3L157.1 81.4L160.2 82.3L164.0 80.4L167.4 83.6L164.6 84.5L160.9 85.4L157.4 84.5L155.2 83.2L155.2 82.3"/>
<path d="M146.5 86.4L149.0 85.4L150.9 87.0L151.5 89.5L149.6 90.8L146.8 92.0L146.5 86.4"/>
<path d="M152.1 89.2L162.8 89.2L165.6 87.6L167.1 89.8L170.2 93.2L172.8 94.5L173.4 96.1L167.8 96.4L158.4 96.1L157.1 94.5L155.6 91.4L152.1 89.2"/>
<path d="M169.0 76.4L170.9 75.4L173.4 77.0L175.2 78.2L177.1 80.1L175.9 83.2L174.6 82.0L169.0 76.4"/>
<path d="M172.8 88.2L175.2 87.0L177.1 88.9L177.8 92.0L175.2 90.8L172.8 88.2"/>
<path d="M180.0 80.1L184.5 82.8L190.5 82.0L200.2 82.0L198.8 84.2L189.8 85.0L184.5 84.2L180.0 80.1"/>
<path d="M187.5 71.1L190.5 69.6L198.8 69.2L204.0 67.4L214.5 67.4L219.0 68.9"/>
<path d="M201.0 78.2L205.5 76.0L210.0 74.5L213.0 73.0L215.2 71.5L219.0 70.0"/>
<path d="M101.2 193.5L101.8 193.5"/>
<path d="M103.2 194.5L104.5 194.5L104.5 195.5"/>
<path d="M105.2 197.5L105.8 197.5"/>
<path d="M83.6 266.5L84.6 266.5"/>
</g>
<rect x="74.5" y="57.5" width="450" height="362" fill="none" stroke="#000" stroke-width="1" shape-rendering="crispEdges"/>
<g shape-rendering="crispEdges"><defs><linearGradient id="cb" x1="0" y1="0" x2="0" y2="1"><stop offset="0.0000" stop-color="#ffff00"/><stop offset="0.0156" stop-color="#fdf300"/><stop offset="0.0312" stop-color="#fbe800"/><stop offset="0.0469" stop-color="#f9dd00"/><stop offset="0.0625" stop-color="#f7d200"/><stop offset="0.0781" stop-color="#f5c800"/><stop offset="0.0938" stop-color="#f3be00"/><stop offset="0.1094" stop-color="#f1b400"/><stop offset="0.1250" stop-color="#efab00"/><stop offset="0.1406" stop-color="#eca200"/><stop offset="0.1562" stop-color="#ea9900"/><stop offset="0.1719" stop-color="#e89100"/><stop offset="0.1875" stop-color="#e68900"/><stop offset="0.2031" stop-color="#e48100"/><stop offset="0.2188" stop-color="#e17a00"/><stop offset="0.2344" stop-color="#df7200"/><stop offset="0.2500" stop-color="#dd6c00"/><stop offset="0.2656" stop-color="#db6500"/><stop offset="0.2812" stop-color="#d85f00"/><stop offset="0.2969" stop-color="#d65900"/><stop offset="0.3125" stop-color="#d35300"/><stop offset="0.3281" stop-color="#d14d00"/><stop offset="0.3438" stop-color="#cf4800"/><stop offset="0.3594" stop-color="#cc4300"/><stop offset="0.3750" stop-color="#ca3e00"/><stop offset="0.3906" stop-color="#c73a00"/><stop offset="0.4062" stop-color="#c43500"/><stop offset="0.4219" stop-color="#c23100"/><stop offset="0.4375" stop-color="#bf2d00"/><stop offset="0.4531" stop-color="#bd2a00"/><stop offset="0.4688" stop-color="#ba2600"/><stop offset="0.4844" stop-color="#b72300"/><stop offset="0.5000" stop-color="#b42000"/><stop offset="0.5156" stop-color="#b11d19"/><stop offset="0.5312" stop-color="#af1a32"/><stop offset="0.5469" stop-color="#ac184a"/><stop offset="0.5625" stop-color="#a91562"/><stop offset="0.5781" stop-color="#a61378"/><stop offset="0.5938" stop-color="#a3118e"/><stop offset="0.6094" stop-color="#9f0fa2"/><stop offset="0.6250" stop-color="#9c0db4"/><stop offset="0.6406" stop-color="#990cc5"/><stop offset="0.6562" stop-color="#960ad4"/><stop offset="0.6719" stop-color="#9209e1"/><stop offset="0.6875" stop-color="#8f08ec"/><stop offset="0.7031" stop-color="#8b07f4"/><stop offset="0.7188" stop-color="#8706fa"/><stop offset="0.7344" stop-color="#8305fe"/><stop offset="0.7500" stop-color="#8004ff"/><stop offset="0.7656" stop-color="#7b03fe"/><stop offset="0.7812" stop-color="#7703fa"/><stop offset="0.7969" stop-color="#7302f4"/><stop offset="0.8125" stop-color="#6e02ec"/><stop offset="0.8281" stop-color="#6a01e1"/><stop offset="0.8438" stop-color="#6501d4"/><stop offset="0.8594" stop-color="#6001c5"/><stop offset="0.8750" stop-color="#5a00b4"/><stop offset="0.8906" stop-color="#5400a2"/><stop offset="0.9062" stop-color="#4e008e"/><stop offset="0.9219" stop-color="#470078"/><stop offset="0.9375" stop-color="#400062"/><stop offset="0.9531" stop-color="#37004a"/><stop offset="0.9688" stop-color="#2d0032"/><stop offset="0.9844" stop-color="#200019"/><stop offset="1.0000" stop-color="#000000"/></linearGradient></defs><rect x="535.5" y="57.5" width="22" height="362" fill="url(#cb)" stroke="#000" stroke-width="1"/><path stroke="#000" stroke-width="1" fill="none" d="M535 66.5h5M558 66.5h-5M535 110.5h5M558 110.5h-5M535 155.5h5M558 155.5h-5M535 199.5h5M558 199.5h-5M535 243.5h5M558 243.5h-5M535 287.5h5M558 287.5h-5M535 331.5h5M558 331.5h-5M535 375.5h5M558 375.5h-5"/></g>
</svg>
</body></html>
